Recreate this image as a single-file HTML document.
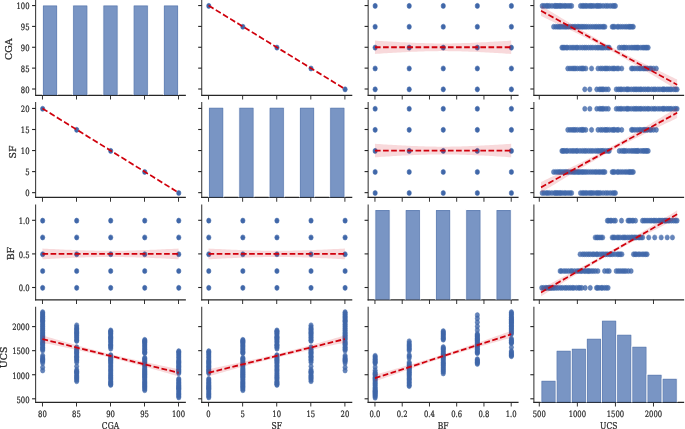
<!DOCTYPE html>
<html><head><meta charset="utf-8"><title>Pair plot</title>
<style>
html,body{margin:0;padding:0;background:#fff;}
body{width:685px;height:429px;overflow:hidden;}
svg{display:block;}
svg text{stroke:#262626;stroke-width:0.25px;paint-order:stroke;}
</style></head><body>
<svg width="685" height="429" viewBox="0 0 805.882 429" preserveAspectRatio="none"> <defs> <style type="text/css">*{stroke-linejoin: round; stroke-linecap: butt}</style> </defs> <g> <g> <path d="M 0 429 L 805.88 429 L 805.88 0 L 0 0 L 0 429 z " style="fill: none; opacity: 0"/> </g> <g> <g> <path d="M 41.94 95.25 L 218.05 95.25 L 218.05 0.35 L 41.94 0.35 L 41.94 95.25 z " style="fill: none; opacity: 0"/> </g> <g> <g> <g> <g> <path d="M 0 0 L 0 4.2 " transform="translate(49.94 95.25)" style="fill: #262626; stroke: #262626; stroke-width: 1.1; stroke: #262626; stroke-width: 1.1"/> </g> </g> </g> <g> <g> <g> <path d="M 0 0 L 0 4.2 " transform="translate(89.97 95.25)" style="fill: #262626; stroke: #262626; stroke-width: 1.1; stroke: #262626; stroke-width: 1.1"/> </g> </g> </g> <g> <g> <g> <path d="M 0 0 L 0 4.2 " transform="translate(130 95.25)" style="fill: #262626; stroke: #262626; stroke-width: 1.1; stroke: #262626; stroke-width: 1.1"/> </g> </g> </g> <g> <g> <g> <path d="M 0 0 L 0 4.2 " transform="translate(170.02 95.25)" style="fill: #262626; stroke: #262626; stroke-width: 1.1; stroke: #262626; stroke-width: 1.1"/> </g> </g> </g> <g> <g> <g> <path d="M 0 0 L 0 4.2 " transform="translate(210.05 95.25)" style="fill: #262626; stroke: #262626; stroke-width: 1.1; stroke: #262626; stroke-width: 1.1"/> </g> </g> </g> </g> <g> <g> <g> <g> <path d="M 0 0 L -4.2 0 " transform="translate(41.94 89)" style="fill: #262626; stroke: #262626; stroke-width: 1.1; stroke: #262626; stroke-width: 1.1"/> </g> </g> <g> <text style="font-size: 8.70px; font-family: 'DejaVu Serif', serif; text-anchor: end; fill: #262626" x="34.74" y="92.82" transform="translate(34.74 92.82) scale(0.925 1) translate(-34.74 -92.82)">80</text> </g> </g> <g> <g> <g> <path d="M 0 0 L -4.2 0 " transform="translate(41.94 68.13)" style="fill: #262626; stroke: #262626; stroke-width: 1.1; stroke: #262626; stroke-width: 1.1"/> </g> </g> <g> <text style="font-size: 8.70px; font-family: 'DejaVu Serif', serif; text-anchor: end; fill: #262626" x="34.74" y="71.96" transform="translate(34.74 71.96) scale(0.925 1) translate(-34.74 -71.96)">85</text> </g> </g> <g> <g> <g> <path d="M 0 0 L -4.2 0 " transform="translate(41.94 47.27)" style="fill: #262626; stroke: #262626; stroke-width: 1.1; stroke: #262626; stroke-width: 1.1"/> </g> </g> <g> <text style="font-size: 8.70px; font-family: 'DejaVu Serif', serif; text-anchor: end; fill: #262626" x="34.74" y="51.10" transform="translate(34.74 51.10) scale(0.925 1) translate(-34.74 -51.10)">90</text> </g> </g> <g> <g> <g> <path d="M 0 0 L -4.2 0 " transform="translate(41.94 26.41)" style="fill: #262626; stroke: #262626; stroke-width: 1.1; stroke: #262626; stroke-width: 1.1"/> </g> </g> <g> <text style="font-size: 8.70px; font-family: 'DejaVu Serif', serif; text-anchor: end; fill: #262626" x="34.74" y="30.24" transform="translate(34.74 30.24) scale(0.925 1) translate(-34.74 -30.24)">95</text> </g> </g> <g> <g> <g> <path d="M 0 0 L -4.2 0 " transform="translate(41.94 5.55)" style="fill: #262626; stroke: #262626; stroke-width: 1.1; stroke: #262626; stroke-width: 1.1"/> </g> </g> <g> <text style="font-size: 8.70px; font-family: 'DejaVu Serif', serif; text-anchor: end; fill: #262626" x="34.74" y="9.37" transform="translate(34.74 9.37) scale(0.925 1) translate(-34.74 -9.37)">100</text> </g> </g> </g> <g> <path d="M 41.94 95.25 L 41.94 0.35 " style="fill: none; stroke: #262626; stroke-width: 1.15; stroke-linejoin: miter; stroke-linecap: square"/> </g> <g> <path d="M 41.94 95.25 L 218.05 95.25 " style="fill: none; stroke: #262626; stroke-width: 1.25; stroke-linejoin: miter; stroke-linecap: square"/> </g> </g> <g> <g> <path d="M 237.35 95.25 L 413.82 95.25 L 413.82 0.35 L 237.35 0.35 L 237.35 95.25 z " style="fill: none; opacity: 0"/> </g> <g> <g> <g> <g> <path d="M 0 0 L 0 4.2 " transform="translate(245.37 95.25)" style="fill: #262626; stroke: #262626; stroke-width: 1.1; stroke: #262626; stroke-width: 1.1"/> </g> </g> </g> <g> <g> <g> <path d="M 0 0 L 0 4.2 " transform="translate(285.47 95.25)" style="fill: #262626; stroke: #262626; stroke-width: 1.1; stroke: #262626; stroke-width: 1.1"/> </g> </g> </g> <g> <g> <g> <path d="M 0 0 L 0 4.2 " transform="translate(325.57 95.25)" style="fill: #262626; stroke: #262626; stroke-width: 1.1; stroke: #262626; stroke-width: 1.1"/> </g> </g> </g> <g> <g> <g> <path d="M 0 0 L 0 4.2 " transform="translate(365.66 95.25)" style="fill: #262626; stroke: #262626; stroke-width: 1.1; stroke: #262626; stroke-width: 1.1"/> </g> </g> </g> <g> <g> <g> <path d="M 0 0 L 0 4.2 " transform="translate(405.76 95.25)" style="fill: #262626; stroke: #262626; stroke-width: 1.1; stroke: #262626; stroke-width: 1.1"/> </g> </g> </g> </g> <g> <g> <g> <g> <path d="M 0 0 L -4.2 0 " transform="translate(237.35 89)" style="fill: #262626; stroke: #262626; stroke-width: 1.1; stroke: #262626; stroke-width: 1.1"/> </g> </g> </g> <g> <g> <g> <path d="M 0 0 L -4.2 0 " transform="translate(237.35 68.13)" style="fill: #262626; stroke: #262626; stroke-width: 1.1; stroke: #262626; stroke-width: 1.1"/> </g> </g> </g> <g> <g> <g> <path d="M 0 0 L -4.2 0 " transform="translate(237.35 47.27)" style="fill: #262626; stroke: #262626; stroke-width: 1.1; stroke: #262626; stroke-width: 1.1"/> </g> </g> </g> <g> <g> <g> <path d="M 0 0 L -4.2 0 " transform="translate(237.35 26.41)" style="fill: #262626; stroke: #262626; stroke-width: 1.1; stroke: #262626; stroke-width: 1.1"/> </g> </g> </g> <g> <g> <g> <path d="M 0 0 L -4.2 0 " transform="translate(237.35 5.55)" style="fill: #262626; stroke: #262626; stroke-width: 1.1; stroke: #262626; stroke-width: 1.1"/> </g> </g> </g> </g> <g style="fill: #4067a9; stroke: #4067a9; stroke-width: 0.6; stroke-width: 0.60" transform="translate(0.24 0.35)"><circle cx="245.38" cy="5.55" r="2.55"/><circle cx="285.47" cy="26.41" r="2.55"/><circle cx="325.57" cy="47.27" r="2.55"/><circle cx="365.67" cy="68.14" r="2.55"/><circle cx="405.76" cy="89.00" r="2.55"/></g> <g> <path d="M 237.35 95.25 L 237.35 0.35 " style="fill: none; stroke: #262626; stroke-width: 1.15; stroke-linejoin: miter; stroke-linecap: square"/> </g> <g> <path d="M 237.35 95.25 L 413.82 95.25 " style="fill: none; stroke: #262626; stroke-width: 1.25; stroke-linejoin: miter; stroke-linecap: square"/> </g> <g> <path d="M 245.37 5.55 L 405.76 89 " clip-path="url(#p2cf65cdfdc)" style="fill: none; stroke-dasharray: 6.66,2.88; stroke-dashoffset: 0; stroke: #d0000c; stroke-width: 1.8"/> </g> </g> <g> <g> <path d="M 433.11 95.25 L 609.47 95.25 L 609.47 0.35 L 433.11 0.35 L 433.11 95.25 z " style="fill: none; opacity: 0"/> </g> <g> <g> <g> <g> <path d="M 0 0 L 0 4.2 " transform="translate(441.11 95.25)" style="fill: #262626; stroke: #262626; stroke-width: 1.1; stroke: #262626; stroke-width: 1.1"/> </g> </g> </g> <g> <g> <g> <path d="M 0 0 L 0 4.2 " transform="translate(473.17 95.25)" style="fill: #262626; stroke: #262626; stroke-width: 1.1; stroke: #262626; stroke-width: 1.1"/> </g> </g> </g> <g> <g> <g> <path d="M 0 0 L 0 4.2 " transform="translate(505.23 95.25)" style="fill: #262626; stroke: #262626; stroke-width: 1.1; stroke: #262626; stroke-width: 1.1"/> </g> </g> </g> <g> <g> <g> <path d="M 0 0 L 0 4.2 " transform="translate(537.29 95.25)" style="fill: #262626; stroke: #262626; stroke-width: 1.1; stroke: #262626; stroke-width: 1.1"/> </g> </g> </g> <g> <g> <g> <path d="M 0 0 L 0 4.2 " transform="translate(569.35 95.25)" style="fill: #262626; stroke: #262626; stroke-width: 1.1; stroke: #262626; stroke-width: 1.1"/> </g> </g> </g> <g> <g> <g> <path d="M 0 0 L 0 4.2 " transform="translate(601.41 95.25)" style="fill: #262626; stroke: #262626; stroke-width: 1.1; stroke: #262626; stroke-width: 1.1"/> </g> </g> </g> </g> <g> <g> <g> <g> <path d="M 0 0 L -4.2 0 " transform="translate(433.11 89)" style="fill: #262626; stroke: #262626; stroke-width: 1.1; stroke: #262626; stroke-width: 1.1"/> </g> </g> </g> <g> <g> <g> <path d="M 0 0 L -4.2 0 " transform="translate(433.11 68.13)" style="fill: #262626; stroke: #262626; stroke-width: 1.1; stroke: #262626; stroke-width: 1.1"/> </g> </g> </g> <g> <g> <g> <path d="M 0 0 L -4.2 0 " transform="translate(433.11 47.27)" style="fill: #262626; stroke: #262626; stroke-width: 1.1; stroke: #262626; stroke-width: 1.1"/> </g> </g> </g> <g> <g> <g> <path d="M 0 0 L -4.2 0 " transform="translate(433.11 26.41)" style="fill: #262626; stroke: #262626; stroke-width: 1.1; stroke: #262626; stroke-width: 1.1"/> </g> </g> </g> <g> <g> <g> <path d="M 0 0 L -4.2 0 " transform="translate(433.11 5.55)" style="fill: #262626; stroke: #262626; stroke-width: 1.1; stroke: #262626; stroke-width: 1.1"/> </g> </g> </g> </g> <g style="fill: #4067a9; stroke: #4067a9; stroke-width: 0.6; stroke-width: 0.60" transform="translate(0.24 0.35)"><circle cx="441.12" cy="89.00" r="2.55"/><circle cx="481.19" cy="89.00" r="2.55"/><circle cx="521.26" cy="89.00" r="2.55"/><circle cx="561.34" cy="89.00" r="2.55"/><circle cx="601.41" cy="89.00" r="2.55"/><circle cx="441.12" cy="68.14" r="2.55"/><circle cx="481.19" cy="68.14" r="2.55"/><circle cx="521.26" cy="68.14" r="2.55"/><circle cx="561.34" cy="68.14" r="2.55"/><circle cx="601.41" cy="68.14" r="2.55"/><circle cx="441.12" cy="47.27" r="2.55"/><circle cx="481.19" cy="47.27" r="2.55"/><circle cx="521.26" cy="47.27" r="2.55"/><circle cx="561.34" cy="47.27" r="2.55"/><circle cx="601.41" cy="47.27" r="2.55"/><circle cx="441.12" cy="26.41" r="2.55"/><circle cx="481.19" cy="26.41" r="2.55"/><circle cx="521.26" cy="26.41" r="2.55"/><circle cx="561.34" cy="26.41" r="2.55"/><circle cx="601.41" cy="26.41" r="2.55"/><circle cx="441.12" cy="5.55" r="2.55"/><circle cx="481.19" cy="5.55" r="2.55"/><circle cx="521.26" cy="5.55" r="2.55"/><circle cx="561.34" cy="5.55" r="2.55"/><circle cx="601.41" cy="5.55" r="2.55"/></g> <g> <path d="M 433.11 95.25 L 433.11 0.35 " style="fill: none; stroke: #262626; stroke-width: 1.15; stroke-linejoin: miter; stroke-linecap: square"/> </g> <g> <path d="M 433.11 95.25 L 609.47 95.25 " style="fill: none; stroke: #262626; stroke-width: 1.25; stroke-linejoin: miter; stroke-linecap: square"/> </g> <g> <path d="M 441.11 40.59 L 441.11 53.95 L 443.83 53.80 L 446.55 53.65 L 449.26 53.50 L 451.98 53.35 L 454.70 53.21 L 457.41 53.07 L 460.13 52.93 L 462.85 52.80 L 465.56 52.67 L 468.28 52.54 L 471.00 52.41 L 473.71 52.29 L 476.43 52.18 L 479.15 52.06 L 481.87 51.95 L 484.58 51.85 L 487.30 51.75 L 490.02 51.66 L 492.73 51.57 L 495.45 51.49 L 498.17 51.42 L 500.88 51.35 L 503.60 51.29 L 506.32 51.24 L 509.03 51.20 L 511.75 51.16 L 514.47 51.14 L 517.18 51.12 L 519.90 51.11 L 522.62 51.11 L 525.33 51.12 L 528.05 51.14 L 530.77 51.16 L 533.49 51.20 L 536.20 51.24 L 538.92 51.29 L 541.64 51.35 L 544.35 51.42 L 547.07 51.49 L 549.79 51.57 L 552.50 51.66 L 555.22 51.75 L 557.94 51.85 L 560.65 51.95 L 563.37 52.06 L 566.09 52.18 L 568.80 52.29 L 571.52 52.41 L 574.24 52.54 L 576.96 52.67 L 579.67 52.80 L 582.39 52.93 L 585.11 53.07 L 587.82 53.21 L 590.54 53.35 L 593.26 53.50 L 595.97 53.65 L 598.69 53.80 L 601.41 53.95 L 601.41 40.59 L 601.41 40.59 L 598.69 40.74 L 595.97 40.89 L 593.26 41.04 L 590.54 41.19 L 587.82 41.33 L 585.11 41.47 L 582.39 41.61 L 579.67 41.74 L 576.96 41.87 L 574.24 42.00 L 571.52 42.13 L 568.80 42.25 L 566.09 42.36 L 563.37 42.48 L 560.65 42.59 L 557.94 42.69 L 555.22 42.79 L 552.50 42.88 L 549.79 42.97 L 547.07 43.05 L 544.35 43.12 L 541.64 43.19 L 538.92 43.25 L 536.20 43.30 L 533.49 43.34 L 530.77 43.38 L 528.05 43.40 L 525.33 43.42 L 522.62 43.43 L 519.90 43.43 L 517.18 43.42 L 514.47 43.40 L 511.75 43.38 L 509.03 43.34 L 506.32 43.30 L 503.60 43.25 L 500.88 43.19 L 498.17 43.12 L 495.45 43.05 L 492.73 42.97 L 490.02 42.88 L 487.30 42.79 L 484.58 42.69 L 481.87 42.59 L 479.15 42.48 L 476.43 42.36 L 473.71 42.25 L 471.00 42.13 L 468.28 42.00 L 465.56 41.87 L 462.85 41.74 L 460.13 41.61 L 457.41 41.47 L 454.70 41.33 L 451.98 41.19 L 449.26 41.04 L 446.55 40.89 L 443.83 40.74 L 441.11 40.59 z " clip-path="url(#p220b580587)" style="fill: #d0000c; fill-opacity: 0.15"/> </g> <g> <path d="M 441.11 47.27 L 601.41 47.27 " clip-path="url(#p220b580587)" style="fill: none; stroke-dasharray: 6.66,2.88; stroke-dashoffset: 0; stroke: #d0000c; stroke-width: 1.8"/> </g> </g> <g> <g> <path d="M 628.11 95.25 L 804.23 95.25 L 804.23 0.35 L 628.11 0.35 L 628.11 95.25 z " style="fill: none; opacity: 0"/> </g> <g> <g> <g> <g> <path d="M 0 0 L 0 4.2 " transform="translate(634.44 95.25)" style="fill: #262626; stroke: #262626; stroke-width: 1.1; stroke: #262626; stroke-width: 1.1"/> </g> </g> </g> <g> <g> <g> <path d="M 0 0 L 0 4.2 " transform="translate(679.22 95.25)" style="fill: #262626; stroke: #262626; stroke-width: 1.1; stroke: #262626; stroke-width: 1.1"/> </g> </g> </g> <g> <g> <g> <path d="M 0 0 L 0 4.2 " transform="translate(724 95.25)" style="fill: #262626; stroke: #262626; stroke-width: 1.1; stroke: #262626; stroke-width: 1.1"/> </g> </g> </g> <g> <g> <g> <path d="M 0 0 L 0 4.2 " transform="translate(768.77 95.25)" style="fill: #262626; stroke: #262626; stroke-width: 1.1; stroke: #262626; stroke-width: 1.1"/> </g> </g> </g> </g> <g> <g> <g> <g> <path d="M 0 0 L -4.2 0 " transform="translate(628.11 89)" style="fill: #262626; stroke: #262626; stroke-width: 1.1; stroke: #262626; stroke-width: 1.1"/> </g> </g> </g> <g> <g> <g> <path d="M 0 0 L -4.2 0 " transform="translate(628.11 68.13)" style="fill: #262626; stroke: #262626; stroke-width: 1.1; stroke: #262626; stroke-width: 1.1"/> </g> </g> </g> <g> <g> <g> <path d="M 0 0 L -4.2 0 " transform="translate(628.11 47.27)" style="fill: #262626; stroke: #262626; stroke-width: 1.1; stroke: #262626; stroke-width: 1.1"/> </g> </g> </g> <g> <g> <g> <path d="M 0 0 L -4.2 0 " transform="translate(628.11 26.41)" style="fill: #262626; stroke: #262626; stroke-width: 1.1; stroke: #262626; stroke-width: 1.1"/> </g> </g> </g> <g> <g> <g> <path d="M 0 0 L -4.2 0 " transform="translate(628.11 5.55)" style="fill: #262626; stroke: #262626; stroke-width: 1.1; stroke: #262626; stroke-width: 1.1"/> </g> </g> </g> </g> <g style="fill: #4067a9; fill-opacity: 0.8; stroke: #4067a9; stroke-opacity: 0.8; stroke-width: 0.6; stroke-width: 0.60" transform="translate(0.24 0.35)"><circle cx="637.65" cy="5.55" r="2.55"/><circle cx="639.86" cy="5.55" r="2.55"/><circle cx="642.38" cy="5.55" r="2.55"/><circle cx="644.10" cy="5.55" r="2.55"/><circle cx="646.23" cy="5.55" r="2.55"/><circle cx="649.10" cy="5.55" r="2.55"/><circle cx="651.97" cy="5.55" r="2.55"/><circle cx="653.38" cy="5.55" r="2.55"/><circle cx="654.94" cy="5.55" r="2.55"/><circle cx="656.20" cy="5.55" r="2.55"/><circle cx="658.20" cy="5.55" r="2.55"/><circle cx="659.43" cy="5.55" r="2.55"/><circle cx="661.46" cy="5.55" r="2.55"/><circle cx="663.86" cy="5.55" r="2.55"/><circle cx="665.56" cy="5.55" r="2.55"/><circle cx="668.01" cy="5.55" r="2.55"/><circle cx="670.30" cy="5.55" r="2.55"/><circle cx="672.24" cy="5.55" r="2.55"/><circle cx="682.71" cy="5.55" r="2.55"/><circle cx="684.94" cy="5.55" r="2.55"/><circle cx="686.59" cy="5.55" r="2.55"/><circle cx="688.55" cy="5.55" r="2.55"/><circle cx="690.26" cy="5.55" r="2.55"/><circle cx="692.74" cy="5.55" r="2.55"/><circle cx="694.75" cy="5.55" r="2.55"/><circle cx="696.21" cy="5.55" r="2.55"/><circle cx="698.41" cy="5.55" r="2.55"/><circle cx="701.06" cy="5.55" r="2.55"/><circle cx="702.81" cy="5.55" r="2.55"/><circle cx="704.40" cy="5.55" r="2.55"/><circle cx="706.30" cy="5.55" r="2.55"/><circle cx="709.25" cy="5.55" r="2.55"/><circle cx="712.28" cy="5.55" r="2.55"/><circle cx="714.72" cy="5.55" r="2.55"/><circle cx="717.61" cy="5.55" r="2.55"/><circle cx="720.39" cy="5.55" r="2.55"/><circle cx="722.27" cy="5.55" r="2.55"/><circle cx="723.76" cy="5.55" r="2.55"/><circle cx="651.06" cy="26.41" r="2.55"/><circle cx="653.47" cy="26.41" r="2.55"/><circle cx="655.70" cy="26.41" r="2.55"/><circle cx="657.55" cy="26.41" r="2.55"/><circle cx="659.14" cy="26.41" r="2.55"/><circle cx="661.08" cy="26.41" r="2.55"/><circle cx="663.14" cy="26.41" r="2.55"/><circle cx="664.82" cy="26.41" r="2.55"/><circle cx="666.54" cy="26.41" r="2.55"/><circle cx="668.58" cy="26.41" r="2.55"/><circle cx="671.38" cy="26.41" r="2.55"/><circle cx="673.66" cy="26.41" r="2.55"/><circle cx="675.37" cy="26.41" r="2.55"/><circle cx="677.06" cy="26.41" r="2.55"/><circle cx="679.10" cy="26.41" r="2.55"/><circle cx="680.65" cy="26.41" r="2.55"/><circle cx="682.20" cy="26.41" r="2.55"/><circle cx="684.34" cy="26.41" r="2.55"/><circle cx="685.68" cy="26.41" r="2.55"/><circle cx="687.76" cy="26.41" r="2.55"/><circle cx="689.62" cy="26.41" r="2.55"/><circle cx="692.13" cy="26.41" r="2.55"/><circle cx="694.72" cy="26.41" r="2.55"/><circle cx="697.20" cy="26.41" r="2.55"/><circle cx="699.68" cy="26.41" r="2.55"/><circle cx="701.55" cy="26.41" r="2.55"/><circle cx="703.99" cy="26.41" r="2.55"/><circle cx="705.81" cy="26.41" r="2.55"/><circle cx="708.06" cy="26.41" r="2.55"/><circle cx="709.85" cy="26.41" r="2.55"/><circle cx="711.41" cy="26.41" r="2.55"/><circle cx="720.00" cy="26.41" r="2.55"/><circle cx="721.28" cy="26.41" r="2.55"/><circle cx="722.91" cy="26.41" r="2.55"/><circle cx="725.93" cy="26.41" r="2.55"/><circle cx="727.53" cy="26.41" r="2.55"/><circle cx="730.01" cy="26.41" r="2.55"/><circle cx="732.42" cy="26.41" r="2.55"/><circle cx="734.96" cy="26.41" r="2.55"/><circle cx="737.03" cy="26.41" r="2.55"/><circle cx="739.33" cy="26.41" r="2.55"/><circle cx="740.63" cy="26.41" r="2.55"/><circle cx="741.93" cy="26.41" r="2.55"/><circle cx="743.47" cy="26.41" r="2.55"/><circle cx="744.82" cy="26.41" r="2.55"/><circle cx="660.82" cy="47.27" r="2.55"/><circle cx="662.18" cy="47.27" r="2.55"/><circle cx="663.59" cy="47.27" r="2.55"/><circle cx="665.81" cy="47.27" r="2.55"/><circle cx="667.33" cy="47.27" r="2.55"/><circle cx="670.31" cy="47.27" r="2.55"/><circle cx="672.78" cy="47.27" r="2.55"/><circle cx="674.97" cy="47.27" r="2.55"/><circle cx="677.48" cy="47.27" r="2.55"/><circle cx="679.15" cy="47.27" r="2.55"/><circle cx="682.08" cy="47.27" r="2.55"/><circle cx="684.85" cy="47.27" r="2.55"/><circle cx="687.40" cy="47.27" r="2.55"/><circle cx="689.48" cy="47.27" r="2.55"/><circle cx="692.24" cy="47.27" r="2.55"/><circle cx="694.83" cy="47.27" r="2.55"/><circle cx="697.25" cy="47.27" r="2.55"/><circle cx="700.16" cy="47.27" r="2.55"/><circle cx="702.53" cy="47.27" r="2.55"/><circle cx="704.39" cy="47.27" r="2.55"/><circle cx="706.61" cy="47.27" r="2.55"/><circle cx="708.15" cy="47.27" r="2.55"/><circle cx="709.68" cy="47.27" r="2.55"/><circle cx="712.23" cy="47.27" r="2.55"/><circle cx="714.89" cy="47.27" r="2.55"/><circle cx="716.47" cy="47.27" r="2.55"/><circle cx="728.35" cy="47.27" r="2.55"/><circle cx="731.14" cy="47.27" r="2.55"/><circle cx="733.34" cy="47.27" r="2.55"/><circle cx="734.68" cy="47.27" r="2.55"/><circle cx="736.77" cy="47.27" r="2.55"/><circle cx="739.71" cy="47.27" r="2.55"/><circle cx="742.37" cy="47.27" r="2.55"/><circle cx="744.46" cy="47.27" r="2.55"/><circle cx="746.49" cy="47.27" r="2.55"/><circle cx="748.07" cy="47.27" r="2.55"/><circle cx="749.58" cy="47.27" r="2.55"/><circle cx="750.88" cy="47.27" r="2.55"/><circle cx="753.75" cy="47.27" r="2.55"/><circle cx="756.13" cy="47.27" r="2.55"/><circle cx="757.57" cy="47.27" r="2.55"/><circle cx="759.52" cy="47.27" r="2.55"/><circle cx="760.78" cy="47.27" r="2.55"/><circle cx="762.35" cy="47.27" r="2.55"/><circle cx="667.76" cy="68.14" r="2.55"/><circle cx="670.32" cy="68.14" r="2.55"/><circle cx="672.73" cy="68.14" r="2.55"/><circle cx="674.81" cy="68.14" r="2.55"/><circle cx="676.49" cy="68.14" r="2.55"/><circle cx="678.90" cy="68.14" r="2.55"/><circle cx="681.89" cy="68.14" r="2.55"/><circle cx="683.88" cy="68.14" r="2.55"/><circle cx="685.18" cy="68.14" r="2.55"/><circle cx="686.46" cy="68.14" r="2.55"/><circle cx="688.94" cy="68.14" r="2.55"/><circle cx="695.71" cy="68.14" r="2.55"/><circle cx="703.29" cy="68.14" r="2.55"/><circle cx="706.29" cy="68.14" r="2.55"/><circle cx="708.48" cy="68.14" r="2.55"/><circle cx="711.24" cy="68.14" r="2.55"/><circle cx="712.73" cy="68.14" r="2.55"/><circle cx="714.39" cy="68.14" r="2.55"/><circle cx="716.88" cy="68.14" r="2.55"/><circle cx="719.75" cy="68.14" r="2.55"/><circle cx="721.56" cy="68.14" r="2.55"/><circle cx="722.85" cy="68.14" r="2.55"/><circle cx="725.66" cy="68.14" r="2.55"/><circle cx="727.38" cy="68.14" r="2.55"/><circle cx="731.18" cy="68.14" r="2.55"/><circle cx="742.71" cy="68.14" r="2.55"/><circle cx="744.17" cy="68.14" r="2.55"/><circle cx="746.66" cy="68.14" r="2.55"/><circle cx="749.43" cy="68.14" r="2.55"/><circle cx="751.98" cy="68.14" r="2.55"/><circle cx="753.83" cy="68.14" r="2.55"/><circle cx="756.38" cy="68.14" r="2.55"/><circle cx="757.81" cy="68.14" r="2.55"/><circle cx="759.57" cy="68.14" r="2.55"/><circle cx="761.54" cy="68.14" r="2.55"/><circle cx="764.37" cy="68.14" r="2.55"/><circle cx="765.83" cy="68.14" r="2.55"/><circle cx="768.67" cy="68.14" r="2.55"/><circle cx="771.88" cy="68.14" r="2.55"/><circle cx="687.76" cy="89.00" r="2.55"/><circle cx="693.65" cy="89.00" r="2.55"/><circle cx="701.88" cy="89.00" r="2.55"/><circle cx="704.90" cy="89.00" r="2.55"/><circle cx="706.76" cy="89.00" r="2.55"/><circle cx="708.32" cy="89.00" r="2.55"/><circle cx="709.94" cy="89.00" r="2.55"/><circle cx="712.69" cy="89.00" r="2.55"/><circle cx="715.41" cy="89.00" r="2.55"/><circle cx="724.82" cy="89.00" r="2.55"/><circle cx="727.32" cy="89.00" r="2.55"/><circle cx="729.40" cy="89.00" r="2.55"/><circle cx="731.12" cy="89.00" r="2.55"/><circle cx="733.87" cy="89.00" r="2.55"/><circle cx="736.70" cy="89.00" r="2.55"/><circle cx="738.04" cy="89.00" r="2.55"/><circle cx="739.61" cy="89.00" r="2.55"/><circle cx="742.36" cy="89.00" r="2.55"/><circle cx="745.14" cy="89.00" r="2.55"/><circle cx="746.91" cy="89.00" r="2.55"/><circle cx="748.61" cy="89.00" r="2.55"/><circle cx="750.59" cy="89.00" r="2.55"/><circle cx="752.78" cy="89.00" r="2.55"/><circle cx="754.13" cy="89.00" r="2.55"/><circle cx="756.89" cy="89.00" r="2.55"/><circle cx="759.08" cy="89.00" r="2.55"/><circle cx="761.72" cy="89.00" r="2.55"/><circle cx="763.32" cy="89.00" r="2.55"/><circle cx="766.33" cy="89.00" r="2.55"/><circle cx="768.92" cy="89.00" r="2.55"/><circle cx="770.74" cy="89.00" r="2.55"/><circle cx="773.71" cy="89.00" r="2.55"/><circle cx="776.21" cy="89.00" r="2.55"/><circle cx="778.98" cy="89.00" r="2.55"/><circle cx="780.23" cy="89.00" r="2.55"/><circle cx="781.50" cy="89.00" r="2.55"/><circle cx="784.08" cy="89.00" r="2.55"/><circle cx="785.83" cy="89.00" r="2.55"/><circle cx="787.98" cy="89.00" r="2.55"/><circle cx="789.44" cy="89.00" r="2.55"/><circle cx="792.47" cy="89.00" r="2.55"/><circle cx="794.59" cy="89.00" r="2.55"/><circle cx="796.35" cy="89.00" r="2.55"/></g> <g> <path d="M 628.11 95.25 L 628.11 0.35 " style="fill: none; stroke: #262626; stroke-width: 1.15; stroke-linejoin: miter; stroke-linecap: square"/> </g> <g> <path d="M 628.11 95.25 L 804.23 95.25 " style="fill: none; stroke: #262626; stroke-width: 1.25; stroke-linejoin: miter; stroke-linecap: square"/> </g> <g> <path d="M 636.47 5.59 L 636.47 16.02 L 639.19 17.12 L 641.91 18.23 L 644.62 19.33 L 647.34 20.44 L 650.05 21.55 L 652.77 22.66 L 655.48 23.77 L 658.20 24.88 L 660.91 26.00 L 663.63 27.11 L 666.34 28.23 L 669.06 29.35 L 671.77 30.48 L 674.49 31.60 L 677.20 32.73 L 679.92 33.86 L 682.63 35.00 L 685.35 36.14 L 688.07 37.29 L 690.78 38.44 L 693.50 39.60 L 696.21 40.77 L 698.93 41.95 L 701.64 43.13 L 704.36 44.32 L 707.07 45.53 L 709.79 46.74 L 712.50 47.97 L 715.22 49.21 L 717.93 50.46 L 720.65 51.73 L 723.36 53.01 L 726.08 54.30 L 728.79 55.60 L 731.51 56.91 L 734.22 58.23 L 736.94 59.56 L 739.66 60.90 L 742.37 62.24 L 745.09 63.59 L 747.80 64.95 L 750.52 66.31 L 753.23 67.68 L 755.95 69.05 L 758.66 70.43 L 761.38 71.81 L 764.09 73.19 L 766.81 74.57 L 769.52 75.96 L 772.24 77.35 L 774.95 78.74 L 777.67 80.13 L 780.38 81.52 L 783.10 82.92 L 785.82 84.32 L 788.53 85.71 L 791.25 87.11 L 793.96 88.51 L 796.68 89.91 L 796.68 79.48 L 796.68 79.48 L 793.96 78.38 L 791.25 77.27 L 788.53 76.17 L 785.82 75.06 L 783.10 73.95 L 780.38 72.84 L 777.67 71.73 L 774.95 70.62 L 772.24 69.50 L 769.52 68.39 L 766.81 67.27 L 764.09 66.15 L 761.38 65.02 L 758.66 63.90 L 755.95 62.77 L 753.23 61.64 L 750.52 60.50 L 747.80 59.36 L 745.09 58.21 L 742.37 57.06 L 739.66 55.90 L 736.94 54.73 L 734.22 53.55 L 731.51 52.37 L 728.79 51.18 L 726.08 49.97 L 723.36 48.76 L 720.65 47.53 L 717.93 46.29 L 715.22 45.04 L 712.50 43.77 L 709.79 42.49 L 707.07 41.20 L 704.36 39.90 L 701.64 38.59 L 698.93 37.27 L 696.21 35.94 L 693.50 34.60 L 690.78 33.26 L 688.07 31.91 L 685.35 30.55 L 682.63 29.19 L 679.92 27.82 L 677.20 26.45 L 674.49 25.07 L 671.77 23.69 L 669.06 22.31 L 666.34 20.93 L 663.63 19.54 L 660.91 18.15 L 658.20 16.76 L 655.48 15.37 L 652.77 13.98 L 650.05 12.58 L 647.34 11.18 L 644.62 9.79 L 641.91 8.39 L 639.19 6.99 L 636.47 5.59 z " clip-path="url(#p8762968a3f)" style="fill: #d0000c; fill-opacity: 0.15"/> </g> <g> <path d="M 636.47 10.80 L 796.68 84.70 " clip-path="url(#p8762968a3f)" style="fill: none; stroke-dasharray: 6.66,2.88; stroke-dashoffset: 0; stroke: #d0000c; stroke-width: 1.8"/> </g> </g> <g> <g> <path d="M 41.94 197.45 L 218.05 197.45 L 218.05 102.6 L 41.94 102.6 L 41.94 197.45 z " style="fill: none; opacity: 0"/> </g> <g> <g> <g> <g> <path d="M 0 0 L 0 4.2 " transform="translate(49.94 197.45)" style="fill: #262626; stroke: #262626; stroke-width: 1.1; stroke: #262626; stroke-width: 1.1"/> </g> </g> </g> <g> <g> <g> <path d="M 0 0 L 0 4.2 " transform="translate(89.97 197.45)" style="fill: #262626; stroke: #262626; stroke-width: 1.1; stroke: #262626; stroke-width: 1.1"/> </g> </g> </g> <g> <g> <g> <path d="M 0 0 L 0 4.2 " transform="translate(130 197.45)" style="fill: #262626; stroke: #262626; stroke-width: 1.1; stroke: #262626; stroke-width: 1.1"/> </g> </g> </g> <g> <g> <g> <path d="M 0 0 L 0 4.2 " transform="translate(170.02 197.45)" style="fill: #262626; stroke: #262626; stroke-width: 1.1; stroke: #262626; stroke-width: 1.1"/> </g> </g> </g> <g> <g> <g> <path d="M 0 0 L 0 4.2 " transform="translate(210.05 197.45)" style="fill: #262626; stroke: #262626; stroke-width: 1.1; stroke: #262626; stroke-width: 1.1"/> </g> </g> </g> </g> <g> <g> <g> <g> <path d="M 0 0 L -4.2 0 " transform="translate(41.94 192.65)" style="fill: #262626; stroke: #262626; stroke-width: 1.1; stroke: #262626; stroke-width: 1.1"/> </g> </g> <g> <text style="font-size: 8.70px; font-family: 'DejaVu Serif', serif; text-anchor: end; fill: #262626" x="34.74" y="196.47" transform="translate(34.74 196.47) scale(0.925 1) translate(-34.74 -196.47)">0</text> </g> </g> <g> <g> <g> <path d="M 0 0 L -4.2 0 " transform="translate(41.94 171.6)" style="fill: #262626; stroke: #262626; stroke-width: 1.1; stroke: #262626; stroke-width: 1.1"/> </g> </g> <g> <text style="font-size: 8.70px; font-family: 'DejaVu Serif', serif; text-anchor: end; fill: #262626" x="34.74" y="175.42" transform="translate(34.74 175.42) scale(0.925 1) translate(-34.74 -175.42)">5</text> </g> </g> <g> <g> <g> <path d="M 0 0 L -4.2 0 " transform="translate(41.94 150.55)" style="fill: #262626; stroke: #262626; stroke-width: 1.1; stroke: #262626; stroke-width: 1.1"/> </g> </g> <g> <text style="font-size: 8.70px; font-family: 'DejaVu Serif', serif; text-anchor: end; fill: #262626" x="34.74" y="154.37" transform="translate(34.74 154.37) scale(0.925 1) translate(-34.74 -154.37)">10</text> </g> </g> <g> <g> <g> <path d="M 0 0 L -4.2 0 " transform="translate(41.94 129.5)" style="fill: #262626; stroke: #262626; stroke-width: 1.1; stroke: #262626; stroke-width: 1.1"/> </g> </g> <g> <text style="font-size: 8.70px; font-family: 'DejaVu Serif', serif; text-anchor: end; fill: #262626" x="34.74" y="133.32" transform="translate(34.74 133.32) scale(0.925 1) translate(-34.74 -133.32)">15</text> </g> </g> <g> <g> <g> <path d="M 0 0 L -4.2 0 " transform="translate(41.94 108.45)" style="fill: #262626; stroke: #262626; stroke-width: 1.1; stroke: #262626; stroke-width: 1.1"/> </g> </g> <g> <text style="font-size: 8.70px; font-family: 'DejaVu Serif', serif; text-anchor: end; fill: #262626" x="34.74" y="112.27" transform="translate(34.74 112.27) scale(0.925 1) translate(-34.74 -112.27)">20</text> </g> </g> </g> <g style="fill: #4067a9; stroke: #4067a9; stroke-width: 0.6; stroke-width: 0.60" transform="translate(0.24 0.35)"><circle cx="49.94" cy="108.45" r="2.55"/><circle cx="89.97" cy="129.50" r="2.55"/><circle cx="130.00" cy="150.55" r="2.55"/><circle cx="170.03" cy="171.60" r="2.55"/><circle cx="210.06" cy="192.65" r="2.55"/></g> <g> <path d="M 41.94 197.45 L 41.94 102.6 " style="fill: none; stroke: #262626; stroke-width: 1.15; stroke-linejoin: miter; stroke-linecap: square"/> </g> <g> <path d="M 41.94 197.45 L 218.05 197.45 " style="fill: none; stroke: #262626; stroke-width: 1.25; stroke-linejoin: miter; stroke-linecap: square"/> </g> <g> <path d="M 49.94 108.45 L 210.05 192.65 " clip-path="url(#p64d9a07a11)" style="fill: none; stroke-dasharray: 6.66,2.88; stroke-dashoffset: 0; stroke: #d0000c; stroke-width: 1.8"/> </g> </g> <g> <g> <path d="M 237.35 197.45 L 413.82 197.45 L 413.82 102.6 L 237.35 102.6 L 237.35 197.45 z " style="fill: none; opacity: 0"/> </g> <g> <g> <g> <g> <path d="M 0 0 L 0 4.2 " transform="translate(245.37 197.45)" style="fill: #262626; stroke: #262626; stroke-width: 1.1; stroke: #262626; stroke-width: 1.1"/> </g> </g> </g> <g> <g> <g> <path d="M 0 0 L 0 4.2 " transform="translate(285.47 197.45)" style="fill: #262626; stroke: #262626; stroke-width: 1.1; stroke: #262626; stroke-width: 1.1"/> </g> </g> </g> <g> <g> <g> <path d="M 0 0 L 0 4.2 " transform="translate(325.57 197.45)" style="fill: #262626; stroke: #262626; stroke-width: 1.1; stroke: #262626; stroke-width: 1.1"/> </g> </g> </g> <g> <g> <g> <path d="M 0 0 L 0 4.2 " transform="translate(365.66 197.45)" style="fill: #262626; stroke: #262626; stroke-width: 1.1; stroke: #262626; stroke-width: 1.1"/> </g> </g> </g> <g> <g> <g> <path d="M 0 0 L 0 4.2 " transform="translate(405.76 197.45)" style="fill: #262626; stroke: #262626; stroke-width: 1.1; stroke: #262626; stroke-width: 1.1"/> </g> </g> </g> </g> <g> <g> <g> <g> <path d="M 0 0 L -4.2 0 " transform="translate(237.35 192.65)" style="fill: #262626; stroke: #262626; stroke-width: 1.1; stroke: #262626; stroke-width: 1.1"/> </g> </g> </g> <g> <g> <g> <path d="M 0 0 L -4.2 0 " transform="translate(237.35 171.6)" style="fill: #262626; stroke: #262626; stroke-width: 1.1; stroke: #262626; stroke-width: 1.1"/> </g> </g> </g> <g> <g> <g> <path d="M 0 0 L -4.2 0 " transform="translate(237.35 150.55)" style="fill: #262626; stroke: #262626; stroke-width: 1.1; stroke: #262626; stroke-width: 1.1"/> </g> </g> </g> <g> <g> <g> <path d="M 0 0 L -4.2 0 " transform="translate(237.35 129.5)" style="fill: #262626; stroke: #262626; stroke-width: 1.1; stroke: #262626; stroke-width: 1.1"/> </g> </g> </g> <g> <g> <g> <path d="M 0 0 L -4.2 0 " transform="translate(237.35 108.45)" style="fill: #262626; stroke: #262626; stroke-width: 1.1; stroke: #262626; stroke-width: 1.1"/> </g> </g> </g> </g> <g> <path d="M 237.35 197.45 L 237.35 102.6 " style="fill: none; stroke: #262626; stroke-width: 1.15; stroke-linejoin: miter; stroke-linecap: square"/> </g> <g> <path d="M 237.35 197.45 L 413.82 197.45 " style="fill: none; stroke: #262626; stroke-width: 1.25; stroke-linejoin: miter; stroke-linecap: square"/> </g> </g> <g> <g> <path d="M 433.11 197.45 L 609.47 197.45 L 609.47 102.6 L 433.11 102.6 L 433.11 197.45 z " style="fill: none; opacity: 0"/> </g> <g> <g> <g> <g> <path d="M 0 0 L 0 4.2 " transform="translate(441.11 197.45)" style="fill: #262626; stroke: #262626; stroke-width: 1.1; stroke: #262626; stroke-width: 1.1"/> </g> </g> </g> <g> <g> <g> <path d="M 0 0 L 0 4.2 " transform="translate(473.17 197.45)" style="fill: #262626; stroke: #262626; stroke-width: 1.1; stroke: #262626; stroke-width: 1.1"/> </g> </g> </g> <g> <g> <g> <path d="M 0 0 L 0 4.2 " transform="translate(505.23 197.45)" style="fill: #262626; stroke: #262626; stroke-width: 1.1; stroke: #262626; stroke-width: 1.1"/> </g> </g> </g> <g> <g> <g> <path d="M 0 0 L 0 4.2 " transform="translate(537.29 197.45)" style="fill: #262626; stroke: #262626; stroke-width: 1.1; stroke: #262626; stroke-width: 1.1"/> </g> </g> </g> <g> <g> <g> <path d="M 0 0 L 0 4.2 " transform="translate(569.35 197.45)" style="fill: #262626; stroke: #262626; stroke-width: 1.1; stroke: #262626; stroke-width: 1.1"/> </g> </g> </g> <g> <g> <g> <path d="M 0 0 L 0 4.2 " transform="translate(601.41 197.45)" style="fill: #262626; stroke: #262626; stroke-width: 1.1; stroke: #262626; stroke-width: 1.1"/> </g> </g> </g> </g> <g> <g> <g> <g> <path d="M 0 0 L -4.2 0 " transform="translate(433.11 192.65)" style="fill: #262626; stroke: #262626; stroke-width: 1.1; stroke: #262626; stroke-width: 1.1"/> </g> </g> </g> <g> <g> <g> <path d="M 0 0 L -4.2 0 " transform="translate(433.11 171.6)" style="fill: #262626; stroke: #262626; stroke-width: 1.1; stroke: #262626; stroke-width: 1.1"/> </g> </g> </g> <g> <g> <g> <path d="M 0 0 L -4.2 0 " transform="translate(433.11 150.55)" style="fill: #262626; stroke: #262626; stroke-width: 1.1; stroke: #262626; stroke-width: 1.1"/> </g> </g> </g> <g> <g> <g> <path d="M 0 0 L -4.2 0 " transform="translate(433.11 129.5)" style="fill: #262626; stroke: #262626; stroke-width: 1.1; stroke: #262626; stroke-width: 1.1"/> </g> </g> </g> <g> <g> <g> <path d="M 0 0 L -4.2 0 " transform="translate(433.11 108.45)" style="fill: #262626; stroke: #262626; stroke-width: 1.1; stroke: #262626; stroke-width: 1.1"/> </g> </g> </g> </g> <g style="fill: #4067a9; stroke: #4067a9; stroke-width: 0.6; stroke-width: 0.60" transform="translate(0.24 0.35)"><circle cx="441.12" cy="192.65" r="2.55"/><circle cx="481.19" cy="192.65" r="2.55"/><circle cx="521.26" cy="192.65" r="2.55"/><circle cx="561.34" cy="192.65" r="2.55"/><circle cx="601.41" cy="192.65" r="2.55"/><circle cx="441.12" cy="171.60" r="2.55"/><circle cx="481.19" cy="171.60" r="2.55"/><circle cx="521.26" cy="171.60" r="2.55"/><circle cx="561.34" cy="171.60" r="2.55"/><circle cx="601.41" cy="171.60" r="2.55"/><circle cx="441.12" cy="150.55" r="2.55"/><circle cx="481.19" cy="150.55" r="2.55"/><circle cx="521.26" cy="150.55" r="2.55"/><circle cx="561.34" cy="150.55" r="2.55"/><circle cx="601.41" cy="150.55" r="2.55"/><circle cx="441.12" cy="129.50" r="2.55"/><circle cx="481.19" cy="129.50" r="2.55"/><circle cx="521.26" cy="129.50" r="2.55"/><circle cx="561.34" cy="129.50" r="2.55"/><circle cx="601.41" cy="129.50" r="2.55"/><circle cx="441.12" cy="108.45" r="2.55"/><circle cx="481.19" cy="108.45" r="2.55"/><circle cx="521.26" cy="108.45" r="2.55"/><circle cx="561.34" cy="108.45" r="2.55"/><circle cx="601.41" cy="108.45" r="2.55"/></g> <g> <path d="M 433.11 197.45 L 433.11 102.6 " style="fill: none; stroke: #262626; stroke-width: 1.15; stroke-linejoin: miter; stroke-linecap: square"/> </g> <g> <path d="M 433.11 197.45 L 609.47 197.45 " style="fill: none; stroke: #262626; stroke-width: 1.25; stroke-linejoin: miter; stroke-linecap: square"/> </g> <g> <path d="M 441.11 143.81 L 441.11 157.28 L 443.83 157.13 L 446.55 156.98 L 449.26 156.83 L 451.98 156.68 L 454.70 156.54 L 457.41 156.40 L 460.13 156.26 L 462.85 156.12 L 465.56 155.99 L 468.28 155.86 L 471.00 155.74 L 473.71 155.61 L 476.43 155.50 L 479.15 155.38 L 481.87 155.27 L 484.58 155.17 L 487.30 155.07 L 490.02 154.97 L 492.73 154.89 L 495.45 154.81 L 498.17 154.73 L 500.88 154.66 L 503.60 154.60 L 506.32 154.55 L 509.03 154.51 L 511.75 154.47 L 514.47 154.45 L 517.18 154.43 L 519.90 154.42 L 522.62 154.42 L 525.33 154.43 L 528.05 154.45 L 530.77 154.47 L 533.49 154.51 L 536.20 154.55 L 538.92 154.60 L 541.64 154.66 L 544.35 154.73 L 547.07 154.81 L 549.79 154.89 L 552.50 154.97 L 555.22 155.07 L 557.94 155.17 L 560.65 155.27 L 563.37 155.38 L 566.09 155.50 L 568.80 155.61 L 571.52 155.74 L 574.24 155.86 L 576.96 155.99 L 579.67 156.12 L 582.39 156.26 L 585.11 156.40 L 587.82 156.54 L 590.54 156.68 L 593.26 156.83 L 595.97 156.98 L 598.69 157.13 L 601.41 157.28 L 601.41 143.81 L 601.41 143.81 L 598.69 143.96 L 595.97 144.11 L 593.26 144.26 L 590.54 144.41 L 587.82 144.55 L 585.11 144.69 L 582.39 144.83 L 579.67 144.97 L 576.96 145.10 L 574.24 145.23 L 571.52 145.35 L 568.80 145.48 L 566.09 145.59 L 563.37 145.71 L 560.65 145.82 L 557.94 145.92 L 555.22 146.02 L 552.50 146.12 L 549.79 146.20 L 547.07 146.28 L 544.35 146.36 L 541.64 146.43 L 538.92 146.49 L 536.20 146.54 L 533.49 146.58 L 530.77 146.62 L 528.05 146.64 L 525.33 146.66 L 522.62 146.67 L 519.90 146.67 L 517.18 146.66 L 514.47 146.64 L 511.75 146.62 L 509.03 146.58 L 506.32 146.54 L 503.60 146.49 L 500.88 146.43 L 498.17 146.36 L 495.45 146.28 L 492.73 146.20 L 490.02 146.12 L 487.30 146.02 L 484.58 145.92 L 481.87 145.82 L 479.15 145.71 L 476.43 145.59 L 473.71 145.48 L 471.00 145.35 L 468.28 145.23 L 465.56 145.10 L 462.85 144.97 L 460.13 144.83 L 457.41 144.69 L 454.70 144.55 L 451.98 144.41 L 449.26 144.26 L 446.55 144.11 L 443.83 143.96 L 441.11 143.81 z " clip-path="url(#p9f455ea907)" style="fill: #d0000c; fill-opacity: 0.15"/> </g> <g> <path d="M 441.11 150.55 L 601.41 150.55 " clip-path="url(#p9f455ea907)" style="fill: none; stroke-dasharray: 6.66,2.88; stroke-dashoffset: 0; stroke: #d0000c; stroke-width: 1.8"/> </g> </g> <g> <g> <path d="M 628.11 197.45 L 804.23 197.45 L 804.23 102.6 L 628.11 102.6 L 628.11 197.45 z " style="fill: none; opacity: 0"/> </g> <g> <g> <g> <g> <path d="M 0 0 L 0 4.2 " transform="translate(634.44 197.45)" style="fill: #262626; stroke: #262626; stroke-width: 1.1; stroke: #262626; stroke-width: 1.1"/> </g> </g> </g> <g> <g> <g> <path d="M 0 0 L 0 4.2 " transform="translate(679.22 197.45)" style="fill: #262626; stroke: #262626; stroke-width: 1.1; stroke: #262626; stroke-width: 1.1"/> </g> </g> </g> <g> <g> <g> <path d="M 0 0 L 0 4.2 " transform="translate(724 197.45)" style="fill: #262626; stroke: #262626; stroke-width: 1.1; stroke: #262626; stroke-width: 1.1"/> </g> </g> </g> <g> <g> <g> <path d="M 0 0 L 0 4.2 " transform="translate(768.77 197.45)" style="fill: #262626; stroke: #262626; stroke-width: 1.1; stroke: #262626; stroke-width: 1.1"/> </g> </g> </g> </g> <g> <g> <g> <g> <path d="M 0 0 L -4.2 0 " transform="translate(628.11 192.65)" style="fill: #262626; stroke: #262626; stroke-width: 1.1; stroke: #262626; stroke-width: 1.1"/> </g> </g> </g> <g> <g> <g> <path d="M 0 0 L -4.2 0 " transform="translate(628.11 171.6)" style="fill: #262626; stroke: #262626; stroke-width: 1.1; stroke: #262626; stroke-width: 1.1"/> </g> </g> </g> <g> <g> <g> <path d="M 0 0 L -4.2 0 " transform="translate(628.11 150.55)" style="fill: #262626; stroke: #262626; stroke-width: 1.1; stroke: #262626; stroke-width: 1.1"/> </g> </g> </g> <g> <g> <g> <path d="M 0 0 L -4.2 0 " transform="translate(628.11 129.5)" style="fill: #262626; stroke: #262626; stroke-width: 1.1; stroke: #262626; stroke-width: 1.1"/> </g> </g> </g> <g> <g> <g> <path d="M 0 0 L -4.2 0 " transform="translate(628.11 108.45)" style="fill: #262626; stroke: #262626; stroke-width: 1.1; stroke: #262626; stroke-width: 1.1"/> </g> </g> </g> </g> <g style="fill: #4067a9; fill-opacity: 0.8; stroke: #4067a9; stroke-opacity: 0.8; stroke-width: 0.6; stroke-width: 0.60" transform="translate(0.24 0.35)"><circle cx="637.65" cy="192.65" r="2.55"/><circle cx="639.86" cy="192.65" r="2.55"/><circle cx="642.38" cy="192.65" r="2.55"/><circle cx="644.10" cy="192.65" r="2.55"/><circle cx="646.23" cy="192.65" r="2.55"/><circle cx="649.10" cy="192.65" r="2.55"/><circle cx="651.97" cy="192.65" r="2.55"/><circle cx="653.38" cy="192.65" r="2.55"/><circle cx="654.94" cy="192.65" r="2.55"/><circle cx="656.20" cy="192.65" r="2.55"/><circle cx="658.20" cy="192.65" r="2.55"/><circle cx="659.43" cy="192.65" r="2.55"/><circle cx="661.46" cy="192.65" r="2.55"/><circle cx="663.86" cy="192.65" r="2.55"/><circle cx="665.56" cy="192.65" r="2.55"/><circle cx="668.01" cy="192.65" r="2.55"/><circle cx="670.30" cy="192.65" r="2.55"/><circle cx="672.24" cy="192.65" r="2.55"/><circle cx="682.71" cy="192.65" r="2.55"/><circle cx="684.94" cy="192.65" r="2.55"/><circle cx="686.59" cy="192.65" r="2.55"/><circle cx="688.55" cy="192.65" r="2.55"/><circle cx="690.26" cy="192.65" r="2.55"/><circle cx="692.74" cy="192.65" r="2.55"/><circle cx="694.75" cy="192.65" r="2.55"/><circle cx="696.21" cy="192.65" r="2.55"/><circle cx="698.41" cy="192.65" r="2.55"/><circle cx="701.06" cy="192.65" r="2.55"/><circle cx="702.81" cy="192.65" r="2.55"/><circle cx="704.40" cy="192.65" r="2.55"/><circle cx="706.30" cy="192.65" r="2.55"/><circle cx="709.25" cy="192.65" r="2.55"/><circle cx="712.28" cy="192.65" r="2.55"/><circle cx="714.72" cy="192.65" r="2.55"/><circle cx="717.61" cy="192.65" r="2.55"/><circle cx="720.39" cy="192.65" r="2.55"/><circle cx="722.27" cy="192.65" r="2.55"/><circle cx="723.76" cy="192.65" r="2.55"/><circle cx="651.06" cy="171.60" r="2.55"/><circle cx="653.47" cy="171.60" r="2.55"/><circle cx="655.70" cy="171.60" r="2.55"/><circle cx="657.55" cy="171.60" r="2.55"/><circle cx="659.14" cy="171.60" r="2.55"/><circle cx="661.08" cy="171.60" r="2.55"/><circle cx="663.14" cy="171.60" r="2.55"/><circle cx="664.82" cy="171.60" r="2.55"/><circle cx="666.54" cy="171.60" r="2.55"/><circle cx="668.58" cy="171.60" r="2.55"/><circle cx="671.38" cy="171.60" r="2.55"/><circle cx="673.66" cy="171.60" r="2.55"/><circle cx="675.37" cy="171.60" r="2.55"/><circle cx="677.06" cy="171.60" r="2.55"/><circle cx="679.10" cy="171.60" r="2.55"/><circle cx="680.65" cy="171.60" r="2.55"/><circle cx="682.20" cy="171.60" r="2.55"/><circle cx="684.34" cy="171.60" r="2.55"/><circle cx="685.68" cy="171.60" r="2.55"/><circle cx="687.76" cy="171.60" r="2.55"/><circle cx="689.62" cy="171.60" r="2.55"/><circle cx="692.13" cy="171.60" r="2.55"/><circle cx="694.72" cy="171.60" r="2.55"/><circle cx="697.20" cy="171.60" r="2.55"/><circle cx="699.68" cy="171.60" r="2.55"/><circle cx="701.55" cy="171.60" r="2.55"/><circle cx="703.99" cy="171.60" r="2.55"/><circle cx="705.81" cy="171.60" r="2.55"/><circle cx="708.06" cy="171.60" r="2.55"/><circle cx="709.85" cy="171.60" r="2.55"/><circle cx="711.41" cy="171.60" r="2.55"/><circle cx="720.00" cy="171.60" r="2.55"/><circle cx="721.28" cy="171.60" r="2.55"/><circle cx="722.91" cy="171.60" r="2.55"/><circle cx="725.93" cy="171.60" r="2.55"/><circle cx="727.53" cy="171.60" r="2.55"/><circle cx="730.01" cy="171.60" r="2.55"/><circle cx="732.42" cy="171.60" r="2.55"/><circle cx="734.96" cy="171.60" r="2.55"/><circle cx="737.03" cy="171.60" r="2.55"/><circle cx="739.33" cy="171.60" r="2.55"/><circle cx="740.63" cy="171.60" r="2.55"/><circle cx="741.93" cy="171.60" r="2.55"/><circle cx="743.47" cy="171.60" r="2.55"/><circle cx="744.82" cy="171.60" r="2.55"/><circle cx="660.82" cy="150.55" r="2.55"/><circle cx="662.18" cy="150.55" r="2.55"/><circle cx="663.59" cy="150.55" r="2.55"/><circle cx="665.81" cy="150.55" r="2.55"/><circle cx="667.33" cy="150.55" r="2.55"/><circle cx="670.31" cy="150.55" r="2.55"/><circle cx="672.78" cy="150.55" r="2.55"/><circle cx="674.97" cy="150.55" r="2.55"/><circle cx="677.48" cy="150.55" r="2.55"/><circle cx="679.15" cy="150.55" r="2.55"/><circle cx="682.08" cy="150.55" r="2.55"/><circle cx="684.85" cy="150.55" r="2.55"/><circle cx="687.40" cy="150.55" r="2.55"/><circle cx="689.48" cy="150.55" r="2.55"/><circle cx="692.24" cy="150.55" r="2.55"/><circle cx="694.83" cy="150.55" r="2.55"/><circle cx="697.25" cy="150.55" r="2.55"/><circle cx="700.16" cy="150.55" r="2.55"/><circle cx="702.53" cy="150.55" r="2.55"/><circle cx="704.39" cy="150.55" r="2.55"/><circle cx="706.61" cy="150.55" r="2.55"/><circle cx="708.15" cy="150.55" r="2.55"/><circle cx="709.68" cy="150.55" r="2.55"/><circle cx="712.23" cy="150.55" r="2.55"/><circle cx="714.89" cy="150.55" r="2.55"/><circle cx="716.47" cy="150.55" r="2.55"/><circle cx="728.35" cy="150.55" r="2.55"/><circle cx="731.14" cy="150.55" r="2.55"/><circle cx="733.34" cy="150.55" r="2.55"/><circle cx="734.68" cy="150.55" r="2.55"/><circle cx="736.77" cy="150.55" r="2.55"/><circle cx="739.71" cy="150.55" r="2.55"/><circle cx="742.37" cy="150.55" r="2.55"/><circle cx="744.46" cy="150.55" r="2.55"/><circle cx="746.49" cy="150.55" r="2.55"/><circle cx="748.07" cy="150.55" r="2.55"/><circle cx="749.58" cy="150.55" r="2.55"/><circle cx="750.88" cy="150.55" r="2.55"/><circle cx="753.75" cy="150.55" r="2.55"/><circle cx="756.13" cy="150.55" r="2.55"/><circle cx="757.57" cy="150.55" r="2.55"/><circle cx="759.52" cy="150.55" r="2.55"/><circle cx="760.78" cy="150.55" r="2.55"/><circle cx="762.35" cy="150.55" r="2.55"/><circle cx="667.76" cy="129.50" r="2.55"/><circle cx="670.32" cy="129.50" r="2.55"/><circle cx="672.73" cy="129.50" r="2.55"/><circle cx="674.81" cy="129.50" r="2.55"/><circle cx="676.49" cy="129.50" r="2.55"/><circle cx="678.90" cy="129.50" r="2.55"/><circle cx="681.89" cy="129.50" r="2.55"/><circle cx="683.88" cy="129.50" r="2.55"/><circle cx="685.18" cy="129.50" r="2.55"/><circle cx="686.46" cy="129.50" r="2.55"/><circle cx="688.94" cy="129.50" r="2.55"/><circle cx="695.71" cy="129.50" r="2.55"/><circle cx="703.29" cy="129.50" r="2.55"/><circle cx="706.29" cy="129.50" r="2.55"/><circle cx="708.48" cy="129.50" r="2.55"/><circle cx="711.24" cy="129.50" r="2.55"/><circle cx="712.73" cy="129.50" r="2.55"/><circle cx="714.39" cy="129.50" r="2.55"/><circle cx="716.88" cy="129.50" r="2.55"/><circle cx="719.75" cy="129.50" r="2.55"/><circle cx="721.56" cy="129.50" r="2.55"/><circle cx="722.85" cy="129.50" r="2.55"/><circle cx="725.66" cy="129.50" r="2.55"/><circle cx="727.38" cy="129.50" r="2.55"/><circle cx="731.18" cy="129.50" r="2.55"/><circle cx="742.71" cy="129.50" r="2.55"/><circle cx="744.17" cy="129.50" r="2.55"/><circle cx="746.66" cy="129.50" r="2.55"/><circle cx="749.43" cy="129.50" r="2.55"/><circle cx="751.98" cy="129.50" r="2.55"/><circle cx="753.83" cy="129.50" r="2.55"/><circle cx="756.38" cy="129.50" r="2.55"/><circle cx="757.81" cy="129.50" r="2.55"/><circle cx="759.57" cy="129.50" r="2.55"/><circle cx="761.54" cy="129.50" r="2.55"/><circle cx="764.37" cy="129.50" r="2.55"/><circle cx="765.83" cy="129.50" r="2.55"/><circle cx="768.67" cy="129.50" r="2.55"/><circle cx="771.88" cy="129.50" r="2.55"/><circle cx="687.76" cy="108.45" r="2.55"/><circle cx="693.65" cy="108.45" r="2.55"/><circle cx="701.88" cy="108.45" r="2.55"/><circle cx="704.90" cy="108.45" r="2.55"/><circle cx="706.76" cy="108.45" r="2.55"/><circle cx="708.32" cy="108.45" r="2.55"/><circle cx="709.94" cy="108.45" r="2.55"/><circle cx="712.69" cy="108.45" r="2.55"/><circle cx="715.41" cy="108.45" r="2.55"/><circle cx="724.82" cy="108.45" r="2.55"/><circle cx="727.32" cy="108.45" r="2.55"/><circle cx="729.40" cy="108.45" r="2.55"/><circle cx="731.12" cy="108.45" r="2.55"/><circle cx="733.87" cy="108.45" r="2.55"/><circle cx="736.70" cy="108.45" r="2.55"/><circle cx="738.04" cy="108.45" r="2.55"/><circle cx="739.61" cy="108.45" r="2.55"/><circle cx="742.36" cy="108.45" r="2.55"/><circle cx="745.14" cy="108.45" r="2.55"/><circle cx="746.91" cy="108.45" r="2.55"/><circle cx="748.61" cy="108.45" r="2.55"/><circle cx="750.59" cy="108.45" r="2.55"/><circle cx="752.78" cy="108.45" r="2.55"/><circle cx="754.13" cy="108.45" r="2.55"/><circle cx="756.89" cy="108.45" r="2.55"/><circle cx="759.08" cy="108.45" r="2.55"/><circle cx="761.72" cy="108.45" r="2.55"/><circle cx="763.32" cy="108.45" r="2.55"/><circle cx="766.33" cy="108.45" r="2.55"/><circle cx="768.92" cy="108.45" r="2.55"/><circle cx="770.74" cy="108.45" r="2.55"/><circle cx="773.71" cy="108.45" r="2.55"/><circle cx="776.21" cy="108.45" r="2.55"/><circle cx="778.98" cy="108.45" r="2.55"/><circle cx="780.23" cy="108.45" r="2.55"/><circle cx="781.50" cy="108.45" r="2.55"/><circle cx="784.08" cy="108.45" r="2.55"/><circle cx="785.83" cy="108.45" r="2.55"/><circle cx="787.98" cy="108.45" r="2.55"/><circle cx="789.44" cy="108.45" r="2.55"/><circle cx="792.47" cy="108.45" r="2.55"/><circle cx="794.59" cy="108.45" r="2.55"/><circle cx="796.35" cy="108.45" r="2.55"/></g> <g> <path d="M 628.11 197.45 L 628.11 102.6 " style="fill: none; stroke: #262626; stroke-width: 1.15; stroke-linejoin: miter; stroke-linecap: square"/> </g> <g> <path d="M 628.11 197.45 L 804.23 197.45 " style="fill: none; stroke: #262626; stroke-width: 1.25; stroke-linejoin: miter; stroke-linecap: square"/> </g> <g> <path d="M 636.47 182.08 L 636.47 192.60 L 639.19 191.19 L 641.91 189.78 L 644.62 188.37 L 647.34 186.96 L 650.05 185.55 L 652.77 184.14 L 655.48 182.73 L 658.20 181.33 L 660.91 179.92 L 663.63 178.52 L 666.34 177.12 L 669.06 175.73 L 671.77 174.33 L 674.49 172.94 L 677.20 171.56 L 679.92 170.17 L 682.63 168.79 L 685.35 167.42 L 688.07 166.05 L 690.78 164.68 L 693.50 163.32 L 696.21 161.97 L 698.93 160.63 L 701.64 159.30 L 704.36 157.98 L 707.07 156.67 L 709.79 155.36 L 712.50 154.08 L 715.22 152.80 L 717.93 151.54 L 720.65 150.28 L 723.36 149.05 L 726.08 147.82 L 728.79 146.60 L 731.51 145.40 L 734.22 144.20 L 736.94 143.02 L 739.66 141.84 L 742.37 140.67 L 745.09 139.51 L 747.80 138.35 L 750.52 137.20 L 753.23 136.05 L 755.95 134.91 L 758.66 133.77 L 761.38 132.63 L 764.09 131.50 L 766.81 130.37 L 769.52 129.24 L 772.24 128.11 L 774.95 126.99 L 777.67 125.87 L 780.38 124.74 L 783.10 123.62 L 785.82 122.51 L 788.53 121.39 L 791.25 120.27 L 793.96 119.16 L 796.68 118.04 L 796.68 107.52 L 796.68 107.52 L 793.96 108.93 L 791.25 110.34 L 788.53 111.76 L 785.82 113.17 L 783.10 114.57 L 780.38 115.98 L 777.67 117.39 L 774.95 118.79 L 772.24 120.20 L 769.52 121.60 L 766.81 123.00 L 764.09 124.39 L 761.38 125.79 L 758.66 127.18 L 755.95 128.57 L 753.23 129.95 L 750.52 131.33 L 747.80 132.71 L 745.09 134.08 L 742.37 135.44 L 739.66 136.80 L 736.94 138.15 L 734.22 139.49 L 731.51 140.82 L 728.79 142.14 L 726.08 143.46 L 723.36 144.76 L 720.65 146.05 L 717.93 147.32 L 715.22 148.59 L 712.50 149.84 L 709.79 151.08 L 707.07 152.30 L 704.36 153.52 L 701.64 154.72 L 698.93 155.92 L 696.21 157.10 L 693.50 158.28 L 690.78 159.45 L 688.07 160.61 L 685.35 161.77 L 682.63 162.92 L 679.92 164.07 L 677.20 165.21 L 674.49 166.35 L 671.77 167.49 L 669.06 168.62 L 666.34 169.75 L 663.63 170.88 L 660.91 172.01 L 658.20 173.13 L 655.48 174.26 L 652.77 175.38 L 650.05 176.50 L 647.34 177.62 L 644.62 178.73 L 641.91 179.85 L 639.19 180.96 L 636.47 182.08 z " clip-path="url(#pc034254808)" style="fill: #d0000c; fill-opacity: 0.15"/> </g> <g> <path d="M 636.47 187.34 L 796.68 112.78 " clip-path="url(#pc034254808)" style="fill: none; stroke-dasharray: 6.66,2.88; stroke-dashoffset: 0; stroke: #d0000c; stroke-width: 1.8"/> </g> </g> <g> <g> <path d="M 41.94 299.85 L 218.05 299.85 L 218.05 205 L 41.94 205 L 41.94 299.85 z " style="fill: none; opacity: 0"/> </g> <g> <g> <g> <g> <path d="M 0 0 L 0 4.2 " transform="translate(49.94 299.85)" style="fill: #262626; stroke: #262626; stroke-width: 1.1; stroke: #262626; stroke-width: 1.1"/> </g> </g> </g> <g> <g> <g> <path d="M 0 0 L 0 4.2 " transform="translate(89.97 299.85)" style="fill: #262626; stroke: #262626; stroke-width: 1.1; stroke: #262626; stroke-width: 1.1"/> </g> </g> </g> <g> <g> <g> <path d="M 0 0 L 0 4.2 " transform="translate(130 299.85)" style="fill: #262626; stroke: #262626; stroke-width: 1.1; stroke: #262626; stroke-width: 1.1"/> </g> </g> </g> <g> <g> <g> <path d="M 0 0 L 0 4.2 " transform="translate(170.02 299.85)" style="fill: #262626; stroke: #262626; stroke-width: 1.1; stroke: #262626; stroke-width: 1.1"/> </g> </g> </g> <g> <g> <g> <path d="M 0 0 L 0 4.2 " transform="translate(210.05 299.85)" style="fill: #262626; stroke: #262626; stroke-width: 1.1; stroke: #262626; stroke-width: 1.1"/> </g> </g> </g> </g> <g> <g> <g> <g> <path d="M 0 0 L -4.2 0 " transform="translate(41.94 287.5)" style="fill: #262626; stroke: #262626; stroke-width: 1.1; stroke: #262626; stroke-width: 1.1"/> </g> </g> <g> <text style="font-size: 8.70px; font-family: 'DejaVu Serif', serif; text-anchor: end; fill: #262626" x="34.74" y="291.32" transform="translate(34.74 291.32) scale(0.925 1) translate(-34.74 -291.32)">0.0</text> </g> </g> <g> <g> <g> <path d="M 0 0 L -4.2 0 " transform="translate(41.94 253.9)" style="fill: #262626; stroke: #262626; stroke-width: 1.1; stroke: #262626; stroke-width: 1.1"/> </g> </g> <g> <text style="font-size: 8.70px; font-family: 'DejaVu Serif', serif; text-anchor: end; fill: #262626" x="34.74" y="257.72" transform="translate(34.74 257.72) scale(0.925 1) translate(-34.74 -257.72)">0.5</text> </g> </g> <g> <g> <g> <path d="M 0 0 L -4.2 0 " transform="translate(41.94 220.3)" style="fill: #262626; stroke: #262626; stroke-width: 1.1; stroke: #262626; stroke-width: 1.1"/> </g> </g> <g> <text style="font-size: 8.70px; font-family: 'DejaVu Serif', serif; text-anchor: end; fill: #262626" x="34.74" y="224.12" transform="translate(34.74 224.12) scale(0.925 1) translate(-34.74 -224.12)">1.0</text> </g> </g> </g> <g style="fill: #4067a9; stroke: #4067a9; stroke-width: 0.6; stroke-width: 0.60" transform="translate(0.24 0.35)"><circle cx="49.94" cy="287.50" r="2.55"/><circle cx="89.97" cy="287.50" r="2.55"/><circle cx="130.00" cy="287.50" r="2.55"/><circle cx="170.03" cy="287.50" r="2.55"/><circle cx="210.06" cy="287.50" r="2.55"/><circle cx="49.94" cy="270.70" r="2.55"/><circle cx="89.97" cy="270.70" r="2.55"/><circle cx="130.00" cy="270.70" r="2.55"/><circle cx="170.03" cy="270.70" r="2.55"/><circle cx="210.06" cy="270.70" r="2.55"/><circle cx="49.94" cy="253.90" r="2.55"/><circle cx="89.97" cy="253.90" r="2.55"/><circle cx="130.00" cy="253.90" r="2.55"/><circle cx="170.03" cy="253.90" r="2.55"/><circle cx="210.06" cy="253.90" r="2.55"/><circle cx="49.94" cy="237.10" r="2.55"/><circle cx="89.97" cy="237.10" r="2.55"/><circle cx="130.00" cy="237.10" r="2.55"/><circle cx="170.03" cy="237.10" r="2.55"/><circle cx="210.06" cy="237.10" r="2.55"/><circle cx="49.94" cy="220.30" r="2.55"/><circle cx="89.97" cy="220.30" r="2.55"/><circle cx="130.00" cy="220.30" r="2.55"/><circle cx="170.03" cy="220.30" r="2.55"/><circle cx="210.06" cy="220.30" r="2.55"/></g> <g> <path d="M 41.94 299.85 L 41.94 205 " style="fill: none; stroke: #262626; stroke-width: 1.15; stroke-linejoin: miter; stroke-linecap: square"/> </g> <g> <path d="M 41.94 299.85 L 218.05 299.85 " style="fill: none; stroke: #262626; stroke-width: 1.25; stroke-linejoin: miter; stroke-linecap: square"/> </g> <g> <path d="M 49.94 248.52 L 49.94 259.27 L 52.65 259.15 L 55.36 259.03 L 58.08 258.91 L 60.79 258.80 L 63.51 258.68 L 66.22 258.57 L 68.93 258.46 L 71.65 258.35 L 74.36 258.24 L 77.07 258.14 L 79.79 258.04 L 82.50 257.94 L 85.22 257.85 L 87.93 257.75 L 90.64 257.67 L 93.36 257.58 L 96.07 257.50 L 98.79 257.43 L 101.50 257.36 L 104.21 257.30 L 106.93 257.24 L 109.64 257.18 L 112.35 257.13 L 115.07 257.09 L 117.78 257.06 L 120.50 257.03 L 123.21 257.01 L 125.92 256.99 L 128.64 256.99 L 131.35 256.99 L 134.07 256.99 L 136.78 257.01 L 139.49 257.03 L 142.21 257.06 L 144.92 257.09 L 147.64 257.13 L 150.35 257.18 L 153.06 257.24 L 155.78 257.30 L 158.49 257.36 L 161.20 257.43 L 163.92 257.50 L 166.63 257.58 L 169.35 257.67 L 172.06 257.75 L 174.77 257.85 L 177.49 257.94 L 180.20 258.04 L 182.92 258.14 L 185.63 258.24 L 188.34 258.35 L 191.06 258.46 L 193.77 258.57 L 196.48 258.68 L 199.20 258.80 L 201.91 258.91 L 204.63 259.03 L 207.34 259.15 L 210.05 259.27 L 210.05 248.52 L 210.05 248.52 L 207.34 248.64 L 204.63 248.76 L 201.91 248.88 L 199.20 248.99 L 196.48 249.11 L 193.77 249.22 L 191.06 249.33 L 188.34 249.44 L 185.63 249.55 L 182.92 249.65 L 180.20 249.75 L 177.49 249.85 L 174.77 249.94 L 172.06 250.04 L 169.35 250.12 L 166.63 250.21 L 163.92 250.29 L 161.20 250.36 L 158.49 250.43 L 155.78 250.49 L 153.06 250.55 L 150.35 250.61 L 147.64 250.66 L 144.92 250.70 L 142.21 250.73 L 139.49 250.76 L 136.78 250.78 L 134.07 250.80 L 131.35 250.80 L 128.64 250.80 L 125.92 250.80 L 123.21 250.78 L 120.50 250.76 L 117.78 250.73 L 115.07 250.70 L 112.35 250.66 L 109.64 250.61 L 106.93 250.55 L 104.21 250.49 L 101.50 250.43 L 98.79 250.36 L 96.07 250.29 L 93.36 250.21 L 90.64 250.12 L 87.93 250.04 L 85.22 249.94 L 82.50 249.85 L 79.79 249.75 L 77.07 249.65 L 74.36 249.55 L 71.65 249.44 L 68.93 249.33 L 66.22 249.22 L 63.51 249.11 L 60.79 248.99 L 58.08 248.88 L 55.36 248.76 L 52.65 248.64 L 49.94 248.52 z " clip-path="url(#p61c2cfd841)" style="fill: #d0000c; fill-opacity: 0.15"/> </g> <g> <path d="M 49.94 253.9 L 210.05 253.9 " clip-path="url(#p61c2cfd841)" style="fill: none; stroke-dasharray: 6.66,2.88; stroke-dashoffset: 0; stroke: #d0000c; stroke-width: 1.8"/> </g> </g> <g> <g> <path d="M 237.35 299.85 L 413.82 299.85 L 413.82 205 L 237.35 205 L 237.35 299.85 z " style="fill: none; opacity: 0"/> </g> <g> <g> <g> <g> <path d="M 0 0 L 0 4.2 " transform="translate(245.37 299.85)" style="fill: #262626; stroke: #262626; stroke-width: 1.1; stroke: #262626; stroke-width: 1.1"/> </g> </g> </g> <g> <g> <g> <path d="M 0 0 L 0 4.2 " transform="translate(285.47 299.85)" style="fill: #262626; stroke: #262626; stroke-width: 1.1; stroke: #262626; stroke-width: 1.1"/> </g> </g> </g> <g> <g> <g> <path d="M 0 0 L 0 4.2 " transform="translate(325.57 299.85)" style="fill: #262626; stroke: #262626; stroke-width: 1.1; stroke: #262626; stroke-width: 1.1"/> </g> </g> </g> <g> <g> <g> <path d="M 0 0 L 0 4.2 " transform="translate(365.66 299.85)" style="fill: #262626; stroke: #262626; stroke-width: 1.1; stroke: #262626; stroke-width: 1.1"/> </g> </g> </g> <g> <g> <g> <path d="M 0 0 L 0 4.2 " transform="translate(405.76 299.85)" style="fill: #262626; stroke: #262626; stroke-width: 1.1; stroke: #262626; stroke-width: 1.1"/> </g> </g> </g> </g> <g> <g> <g> <g> <path d="M 0 0 L -4.2 0 " transform="translate(237.35 287.5)" style="fill: #262626; stroke: #262626; stroke-width: 1.1; stroke: #262626; stroke-width: 1.1"/> </g> </g> </g> <g> <g> <g> <path d="M 0 0 L -4.2 0 " transform="translate(237.35 253.9)" style="fill: #262626; stroke: #262626; stroke-width: 1.1; stroke: #262626; stroke-width: 1.1"/> </g> </g> </g> <g> <g> <g> <path d="M 0 0 L -4.2 0 " transform="translate(237.35 220.3)" style="fill: #262626; stroke: #262626; stroke-width: 1.1; stroke: #262626; stroke-width: 1.1"/> </g> </g> </g> </g> <g style="fill: #4067a9; stroke: #4067a9; stroke-width: 0.6; stroke-width: 0.60" transform="translate(0.24 0.35)"><circle cx="245.38" cy="287.50" r="2.55"/><circle cx="285.47" cy="287.50" r="2.55"/><circle cx="325.57" cy="287.50" r="2.55"/><circle cx="365.67" cy="287.50" r="2.55"/><circle cx="405.76" cy="287.50" r="2.55"/><circle cx="245.38" cy="270.70" r="2.55"/><circle cx="285.47" cy="270.70" r="2.55"/><circle cx="325.57" cy="270.70" r="2.55"/><circle cx="365.67" cy="270.70" r="2.55"/><circle cx="405.76" cy="270.70" r="2.55"/><circle cx="245.38" cy="253.90" r="2.55"/><circle cx="285.47" cy="253.90" r="2.55"/><circle cx="325.57" cy="253.90" r="2.55"/><circle cx="365.67" cy="253.90" r="2.55"/><circle cx="405.76" cy="253.90" r="2.55"/><circle cx="245.38" cy="237.10" r="2.55"/><circle cx="285.47" cy="237.10" r="2.55"/><circle cx="325.57" cy="237.10" r="2.55"/><circle cx="365.67" cy="237.10" r="2.55"/><circle cx="405.76" cy="237.10" r="2.55"/><circle cx="245.38" cy="220.30" r="2.55"/><circle cx="285.47" cy="220.30" r="2.55"/><circle cx="325.57" cy="220.30" r="2.55"/><circle cx="365.67" cy="220.30" r="2.55"/><circle cx="405.76" cy="220.30" r="2.55"/></g> <g> <path d="M 237.35 299.85 L 237.35 205 " style="fill: none; stroke: #262626; stroke-width: 1.15; stroke-linejoin: miter; stroke-linecap: square"/> </g> <g> <path d="M 237.35 299.85 L 413.82 299.85 " style="fill: none; stroke: #262626; stroke-width: 1.25; stroke-linejoin: miter; stroke-linecap: square"/> </g> <g> <path d="M 245.37 248.52 L 245.37 259.27 L 248.09 259.15 L 250.81 259.03 L 253.53 258.91 L 256.25 258.80 L 258.96 258.68 L 261.68 258.57 L 264.40 258.46 L 267.12 258.35 L 269.84 258.24 L 272.56 258.14 L 275.27 258.04 L 277.99 257.94 L 280.71 257.85 L 283.43 257.75 L 286.15 257.67 L 288.87 257.58 L 291.59 257.50 L 294.30 257.43 L 297.02 257.36 L 299.74 257.30 L 302.46 257.24 L 305.18 257.18 L 307.90 257.13 L 310.61 257.09 L 313.33 257.06 L 316.05 257.03 L 318.77 257.01 L 321.49 256.99 L 324.21 256.99 L 326.92 256.99 L 329.64 256.99 L 332.36 257.01 L 335.08 257.03 L 337.80 257.06 L 340.52 257.09 L 343.24 257.13 L 345.95 257.18 L 348.67 257.24 L 351.39 257.30 L 354.11 257.36 L 356.83 257.43 L 359.55 257.50 L 362.26 257.58 L 364.98 257.67 L 367.70 257.75 L 370.42 257.85 L 373.14 257.94 L 375.86 258.04 L 378.58 258.14 L 381.29 258.24 L 384.01 258.35 L 386.73 258.46 L 389.45 258.57 L 392.17 258.68 L 394.89 258.80 L 397.60 258.91 L 400.32 259.03 L 403.04 259.15 L 405.76 259.27 L 405.76 248.52 L 405.76 248.52 L 403.04 248.64 L 400.32 248.76 L 397.60 248.88 L 394.89 248.99 L 392.17 249.11 L 389.45 249.22 L 386.73 249.33 L 384.01 249.44 L 381.29 249.55 L 378.58 249.65 L 375.86 249.75 L 373.14 249.85 L 370.42 249.94 L 367.70 250.04 L 364.98 250.12 L 362.26 250.21 L 359.55 250.29 L 356.83 250.36 L 354.11 250.43 L 351.39 250.49 L 348.67 250.55 L 345.95 250.61 L 343.24 250.66 L 340.52 250.70 L 337.80 250.73 L 335.08 250.76 L 332.36 250.78 L 329.64 250.80 L 326.92 250.80 L 324.21 250.80 L 321.49 250.80 L 318.77 250.78 L 316.05 250.76 L 313.33 250.73 L 310.61 250.70 L 307.90 250.66 L 305.18 250.61 L 302.46 250.55 L 299.74 250.49 L 297.02 250.43 L 294.30 250.36 L 291.59 250.29 L 288.87 250.21 L 286.15 250.12 L 283.43 250.04 L 280.71 249.94 L 277.99 249.85 L 275.27 249.75 L 272.56 249.65 L 269.84 249.55 L 267.12 249.44 L 264.40 249.33 L 261.68 249.22 L 258.96 249.11 L 256.25 248.99 L 253.53 248.88 L 250.81 248.76 L 248.09 248.64 L 245.37 248.52 z " clip-path="url(#p273818b134)" style="fill: #d0000c; fill-opacity: 0.15"/> </g> <g> <path d="M 245.37 253.9 L 405.76 253.9 " clip-path="url(#p273818b134)" style="fill: none; stroke-dasharray: 6.66,2.88; stroke-dashoffset: 0; stroke: #d0000c; stroke-width: 1.8"/> </g> </g> <g> <g> <path d="M 433.11 299.85 L 609.47 299.85 L 609.47 205 L 433.11 205 L 433.11 299.85 z " style="fill: none; opacity: 0"/> </g> <g> <g> <g> <g> <path d="M 0 0 L 0 4.2 " transform="translate(441.11 299.85)" style="fill: #262626; stroke: #262626; stroke-width: 1.1; stroke: #262626; stroke-width: 1.1"/> </g> </g> </g> <g> <g> <g> <path d="M 0 0 L 0 4.2 " transform="translate(473.17 299.85)" style="fill: #262626; stroke: #262626; stroke-width: 1.1; stroke: #262626; stroke-width: 1.1"/> </g> </g> </g> <g> <g> <g> <path d="M 0 0 L 0 4.2 " transform="translate(505.23 299.85)" style="fill: #262626; stroke: #262626; stroke-width: 1.1; stroke: #262626; stroke-width: 1.1"/> </g> </g> </g> <g> <g> <g> <path d="M 0 0 L 0 4.2 " transform="translate(537.29 299.85)" style="fill: #262626; stroke: #262626; stroke-width: 1.1; stroke: #262626; stroke-width: 1.1"/> </g> </g> </g> <g> <g> <g> <path d="M 0 0 L 0 4.2 " transform="translate(569.35 299.85)" style="fill: #262626; stroke: #262626; stroke-width: 1.1; stroke: #262626; stroke-width: 1.1"/> </g> </g> </g> <g> <g> <g> <path d="M 0 0 L 0 4.2 " transform="translate(601.41 299.85)" style="fill: #262626; stroke: #262626; stroke-width: 1.1; stroke: #262626; stroke-width: 1.1"/> </g> </g> </g> </g> <g> <g> <g> <g> <path d="M 0 0 L -4.2 0 " transform="translate(433.11 287.5)" style="fill: #262626; stroke: #262626; stroke-width: 1.1; stroke: #262626; stroke-width: 1.1"/> </g> </g> </g> <g> <g> <g> <path d="M 0 0 L -4.2 0 " transform="translate(433.11 253.9)" style="fill: #262626; stroke: #262626; stroke-width: 1.1; stroke: #262626; stroke-width: 1.1"/> </g> </g> </g> <g> <g> <g> <path d="M 0 0 L -4.2 0 " transform="translate(433.11 220.3)" style="fill: #262626; stroke: #262626; stroke-width: 1.1; stroke: #262626; stroke-width: 1.1"/> </g> </g> </g> </g> <g> <path d="M 433.11 299.85 L 433.11 205 " style="fill: none; stroke: #262626; stroke-width: 1.15; stroke-linejoin: miter; stroke-linecap: square"/> </g> <g> <path d="M 433.11 299.85 L 609.47 299.85 " style="fill: none; stroke: #262626; stroke-width: 1.25; stroke-linejoin: miter; stroke-linecap: square"/> </g> </g> <g> <g> <path d="M 628.11 299.85 L 804.23 299.85 L 804.23 205 L 628.11 205 L 628.11 299.85 z " style="fill: none; opacity: 0"/> </g> <g> <g> <g> <g> <path d="M 0 0 L 0 4.2 " transform="translate(634.44 299.85)" style="fill: #262626; stroke: #262626; stroke-width: 1.1; stroke: #262626; stroke-width: 1.1"/> </g> </g> </g> <g> <g> <g> <path d="M 0 0 L 0 4.2 " transform="translate(679.22 299.85)" style="fill: #262626; stroke: #262626; stroke-width: 1.1; stroke: #262626; stroke-width: 1.1"/> </g> </g> </g> <g> <g> <g> <path d="M 0 0 L 0 4.2 " transform="translate(724 299.85)" style="fill: #262626; stroke: #262626; stroke-width: 1.1; stroke: #262626; stroke-width: 1.1"/> </g> </g> </g> <g> <g> <g> <path d="M 0 0 L 0 4.2 " transform="translate(768.77 299.85)" style="fill: #262626; stroke: #262626; stroke-width: 1.1; stroke: #262626; stroke-width: 1.1"/> </g> </g> </g> </g> <g> <g> <g> <g> <path d="M 0 0 L -4.2 0 " transform="translate(628.11 287.5)" style="fill: #262626; stroke: #262626; stroke-width: 1.1; stroke: #262626; stroke-width: 1.1"/> </g> </g> </g> <g> <g> <g> <path d="M 0 0 L -4.2 0 " transform="translate(628.11 253.9)" style="fill: #262626; stroke: #262626; stroke-width: 1.1; stroke: #262626; stroke-width: 1.1"/> </g> </g> </g> <g> <g> <g> <path d="M 0 0 L -4.2 0 " transform="translate(628.11 220.3)" style="fill: #262626; stroke: #262626; stroke-width: 1.1; stroke: #262626; stroke-width: 1.1"/> </g> </g> </g> </g> <g style="fill: #4067a9; fill-opacity: 0.8; stroke: #4067a9; stroke-opacity: 0.8; stroke-width: 0.6; stroke-width: 0.60" transform="translate(0.24 0.35)"><circle cx="714.35" cy="220.30" r="2.55"/><circle cx="715.66" cy="220.30" r="2.55"/><circle cx="717.74" cy="220.30" r="2.55"/><circle cx="719.02" cy="220.30" r="2.55"/><circle cx="721.87" cy="220.30" r="2.55"/><circle cx="723.76" cy="220.30" r="2.55"/><circle cx="730.94" cy="220.30" r="2.55"/><circle cx="738.59" cy="220.30" r="2.55"/><circle cx="739.88" cy="220.30" r="2.55"/><circle cx="741.19" cy="220.30" r="2.55"/><circle cx="743.39" cy="220.30" r="2.55"/><circle cx="744.69" cy="220.30" r="2.55"/><circle cx="747.41" cy="220.30" r="2.55"/><circle cx="755.65" cy="220.30" r="2.55"/><circle cx="757.64" cy="220.30" r="2.55"/><circle cx="759.76" cy="220.30" r="2.55"/><circle cx="762.03" cy="220.30" r="2.55"/><circle cx="764.38" cy="220.30" r="2.55"/><circle cx="766.26" cy="220.30" r="2.55"/><circle cx="768.60" cy="220.30" r="2.55"/><circle cx="770.06" cy="220.30" r="2.55"/><circle cx="771.75" cy="220.30" r="2.55"/><circle cx="774.44" cy="220.30" r="2.55"/><circle cx="775.90" cy="220.30" r="2.55"/><circle cx="777.49" cy="220.30" r="2.55"/><circle cx="779.12" cy="220.30" r="2.55"/><circle cx="781.19" cy="220.30" r="2.55"/><circle cx="782.36" cy="220.30" r="2.55"/><circle cx="783.58" cy="220.30" r="2.55"/><circle cx="785.63" cy="220.30" r="2.55"/><circle cx="787.10" cy="220.30" r="2.55"/><circle cx="789.56" cy="220.30" r="2.55"/><circle cx="792.24" cy="220.30" r="2.55"/><circle cx="794.51" cy="220.30" r="2.55"/><circle cx="796.35" cy="220.30" r="2.55"/><circle cx="700.00" cy="237.10" r="2.55"/><circle cx="701.91" cy="237.10" r="2.55"/><circle cx="703.16" cy="237.10" r="2.55"/><circle cx="705.16" cy="237.10" r="2.55"/><circle cx="707.04" cy="237.10" r="2.55"/><circle cx="708.82" cy="237.10" r="2.55"/><circle cx="720.00" cy="237.10" r="2.55"/><circle cx="721.42" cy="237.10" r="2.55"/><circle cx="723.02" cy="237.10" r="2.55"/><circle cx="725.74" cy="237.10" r="2.55"/><circle cx="727.41" cy="237.10" r="2.55"/><circle cx="729.35" cy="237.10" r="2.55"/><circle cx="732.30" cy="237.10" r="2.55"/><circle cx="733.99" cy="237.10" r="2.55"/><circle cx="735.43" cy="237.10" r="2.55"/><circle cx="737.93" cy="237.10" r="2.55"/><circle cx="740.18" cy="237.10" r="2.55"/><circle cx="742.51" cy="237.10" r="2.55"/><circle cx="743.76" cy="237.10" r="2.55"/><circle cx="745.72" cy="237.10" r="2.55"/><circle cx="746.89" cy="237.10" r="2.55"/><circle cx="748.52" cy="237.10" r="2.55"/><circle cx="751.03" cy="237.10" r="2.55"/><circle cx="752.32" cy="237.10" r="2.55"/><circle cx="754.04" cy="237.10" r="2.55"/><circle cx="755.76" cy="237.10" r="2.55"/><circle cx="762.94" cy="237.10" r="2.55"/><circle cx="770.00" cy="237.10" r="2.55"/><circle cx="777.65" cy="237.10" r="2.55"/><circle cx="784.71" cy="237.10" r="2.55"/><circle cx="790.88" cy="237.10" r="2.55"/><circle cx="682.24" cy="253.90" r="2.55"/><circle cx="685.25" cy="253.90" r="2.55"/><circle cx="687.33" cy="253.90" r="2.55"/><circle cx="689.90" cy="253.90" r="2.55"/><circle cx="692.27" cy="253.90" r="2.55"/><circle cx="694.32" cy="253.90" r="2.55"/><circle cx="697.12" cy="253.90" r="2.55"/><circle cx="698.62" cy="253.90" r="2.55"/><circle cx="701.36" cy="253.90" r="2.55"/><circle cx="702.60" cy="253.90" r="2.55"/><circle cx="705.42" cy="253.90" r="2.55"/><circle cx="707.87" cy="253.90" r="2.55"/><circle cx="709.89" cy="253.90" r="2.55"/><circle cx="712.33" cy="253.90" r="2.55"/><circle cx="714.38" cy="253.90" r="2.55"/><circle cx="717.03" cy="253.90" r="2.55"/><circle cx="718.41" cy="253.90" r="2.55"/><circle cx="720.54" cy="253.90" r="2.55"/><circle cx="723.37" cy="253.90" r="2.55"/><circle cx="726.30" cy="253.90" r="2.55"/><circle cx="727.88" cy="253.90" r="2.55"/><circle cx="729.53" cy="253.90" r="2.55"/><circle cx="731.41" cy="253.90" r="2.55"/><circle cx="745.06" cy="253.90" r="2.55"/><circle cx="746.88" cy="253.90" r="2.55"/><circle cx="748.16" cy="253.90" r="2.55"/><circle cx="750.68" cy="253.90" r="2.55"/><circle cx="752.64" cy="253.90" r="2.55"/><circle cx="755.20" cy="253.90" r="2.55"/><circle cx="757.28" cy="253.90" r="2.55"/><circle cx="759.40" cy="253.90" r="2.55"/><circle cx="761.06" cy="253.90" r="2.55"/><circle cx="658.71" cy="270.70" r="2.55"/><circle cx="660.42" cy="270.70" r="2.55"/><circle cx="663.31" cy="270.70" r="2.55"/><circle cx="665.74" cy="270.70" r="2.55"/><circle cx="668.41" cy="270.70" r="2.55"/><circle cx="671.28" cy="270.70" r="2.55"/><circle cx="672.93" cy="270.70" r="2.55"/><circle cx="675.84" cy="270.70" r="2.55"/><circle cx="678.65" cy="270.70" r="2.55"/><circle cx="680.78" cy="270.70" r="2.55"/><circle cx="683.03" cy="270.70" r="2.55"/><circle cx="684.41" cy="270.70" r="2.55"/><circle cx="687.03" cy="270.70" r="2.55"/><circle cx="688.53" cy="270.70" r="2.55"/><circle cx="690.71" cy="270.70" r="2.55"/><circle cx="692.11" cy="270.70" r="2.55"/><circle cx="693.42" cy="270.70" r="2.55"/><circle cx="695.74" cy="270.70" r="2.55"/><circle cx="697.84" cy="270.70" r="2.55"/><circle cx="700.29" cy="270.70" r="2.55"/><circle cx="703.18" cy="270.70" r="2.55"/><circle cx="711.06" cy="270.70" r="2.55"/><circle cx="714.10" cy="270.70" r="2.55"/><circle cx="716.47" cy="270.70" r="2.55"/><circle cx="724.71" cy="270.70" r="2.55"/><circle cx="727.07" cy="270.70" r="2.55"/><circle cx="729.34" cy="270.70" r="2.55"/><circle cx="731.74" cy="270.70" r="2.55"/><circle cx="733.94" cy="270.70" r="2.55"/><circle cx="736.17" cy="270.70" r="2.55"/><circle cx="738.99" cy="270.70" r="2.55"/><circle cx="742.24" cy="270.70" r="2.55"/><circle cx="637.06" cy="287.50" r="2.55"/><circle cx="639.24" cy="287.50" r="2.55"/><circle cx="641.72" cy="287.50" r="2.55"/><circle cx="643.06" cy="287.50" r="2.55"/><circle cx="645.05" cy="287.50" r="2.55"/><circle cx="646.41" cy="287.50" r="2.55"/><circle cx="647.83" cy="287.50" r="2.55"/><circle cx="649.00" cy="287.50" r="2.55"/><circle cx="650.57" cy="287.50" r="2.55"/><circle cx="652.15" cy="287.50" r="2.55"/><circle cx="654.29" cy="287.50" r="2.55"/><circle cx="656.55" cy="287.50" r="2.55"/><circle cx="659.28" cy="287.50" r="2.55"/><circle cx="661.37" cy="287.50" r="2.55"/><circle cx="664.24" cy="287.50" r="2.55"/><circle cx="666.15" cy="287.50" r="2.55"/><circle cx="668.74" cy="287.50" r="2.55"/><circle cx="670.96" cy="287.50" r="2.55"/><circle cx="673.31" cy="287.50" r="2.55"/><circle cx="674.99" cy="287.50" r="2.55"/><circle cx="677.94" cy="287.50" r="2.55"/><circle cx="680.57" cy="287.50" r="2.55"/><circle cx="682.02" cy="287.50" r="2.55"/><circle cx="684.20" cy="287.50" r="2.55"/><circle cx="688.24" cy="287.50" r="2.55"/><circle cx="694.18" cy="287.50" r="2.55"/><circle cx="701.53" cy="287.50" r="2.55"/><circle cx="702.79" cy="287.50" r="2.55"/><circle cx="704.53" cy="287.50" r="2.55"/><circle cx="707.11" cy="287.50" r="2.55"/><circle cx="708.35" cy="287.50" r="2.55"/><circle cx="710.93" cy="287.50" r="2.55"/><circle cx="713.19" cy="287.50" r="2.55"/><circle cx="715.18" cy="287.50" r="2.55"/></g> <g> <path d="M 628.11 299.85 L 628.11 205 " style="fill: none; stroke: #262626; stroke-width: 1.15; stroke-linejoin: miter; stroke-linecap: square"/> </g> <g> <path d="M 628.11 299.85 L 804.23 299.85 " style="fill: none; stroke: #262626; stroke-width: 1.25; stroke-linejoin: miter; stroke-linecap: square"/> </g> <g> <path d="M 636.47 288.57 L 636.47 296.37 L 639.19 294.93 L 641.91 293.50 L 644.62 292.06 L 647.34 290.63 L 650.05 289.20 L 652.77 287.77 L 655.48 286.34 L 658.20 284.91 L 660.91 283.48 L 663.63 282.06 L 666.34 280.63 L 669.06 279.21 L 671.77 277.79 L 674.49 276.37 L 677.20 274.96 L 679.92 273.54 L 682.63 272.13 L 685.35 270.73 L 688.07 269.33 L 690.78 267.93 L 693.50 266.54 L 696.21 265.15 L 698.93 263.77 L 701.64 262.39 L 704.36 261.02 L 707.07 259.66 L 709.79 258.31 L 712.50 256.97 L 715.22 255.63 L 717.93 254.31 L 720.65 252.99 L 723.36 251.68 L 726.08 250.38 L 728.79 249.09 L 731.51 247.81 L 734.22 246.53 L 736.94 245.26 L 739.66 244.00 L 742.37 242.74 L 745.09 241.49 L 747.80 240.24 L 750.52 238.99 L 753.23 237.75 L 755.95 236.51 L 758.66 235.27 L 761.38 234.04 L 764.09 232.81 L 766.81 231.58 L 769.52 230.35 L 772.24 229.13 L 774.95 227.90 L 777.67 226.68 L 780.38 225.46 L 783.10 224.24 L 785.82 223.02 L 788.53 221.80 L 791.25 220.58 L 793.96 219.36 L 796.68 218.14 L 796.68 210.35 L 796.68 210.35 L 793.96 211.78 L 791.25 213.22 L 788.53 214.65 L 785.82 216.08 L 783.10 217.52 L 780.38 218.95 L 777.67 220.38 L 774.95 221.81 L 772.24 223.23 L 769.52 224.66 L 766.81 226.08 L 764.09 227.50 L 761.38 228.92 L 758.66 230.34 L 755.95 231.76 L 753.23 233.17 L 750.52 234.58 L 747.80 235.99 L 745.09 237.39 L 742.37 238.79 L 739.66 240.18 L 736.94 241.57 L 734.22 242.95 L 731.51 244.32 L 728.79 245.69 L 726.08 247.05 L 723.36 248.40 L 720.65 249.75 L 717.93 251.08 L 715.22 252.41 L 712.50 253.72 L 709.79 255.03 L 707.07 256.33 L 704.36 257.62 L 701.64 258.91 L 698.93 260.18 L 696.21 261.45 L 693.50 262.72 L 690.78 263.98 L 688.07 265.23 L 685.35 266.48 L 682.63 267.72 L 679.92 268.97 L 677.20 270.21 L 674.49 271.44 L 671.77 272.68 L 669.06 273.91 L 666.34 275.14 L 663.63 276.36 L 660.91 277.59 L 658.20 278.81 L 655.48 280.04 L 652.77 281.26 L 650.05 282.48 L 647.34 283.70 L 644.62 284.92 L 641.91 286.14 L 639.19 287.35 L 636.47 288.57 z " clip-path="url(#p671a08f474)" style="fill: #d0000c; fill-opacity: 0.15"/> </g> <g> <path d="M 636.47 292.47 L 796.68 214.25 " clip-path="url(#p671a08f474)" style="fill: none; stroke-dasharray: 6.66,2.88; stroke-dashoffset: 0; stroke: #d0000c; stroke-width: 1.8"/> </g> </g> <g> <g> <path d="M 41.94 402.4 L 218.05 402.4 L 218.05 307.3 L 41.94 307.3 L 41.94 402.4 z " style="fill: none; opacity: 0"/> </g> <g> <g> <g> <g> <path d="M 0 0 L 0 4.2 " transform="translate(49.94 402.4)" style="fill: #262626; stroke: #262626; stroke-width: 1.1; stroke: #262626; stroke-width: 1.1"/> </g> </g> <g> <text style="font-size: 8.70px; font-family: 'DejaVu Serif', serif; text-anchor: middle; fill: #262626" x="49.94" y="417.35" transform="translate(49.94 417.35) scale(0.925 1) translate(-49.94 -417.35)">80</text> </g> </g> <g> <g> <g> <path d="M 0 0 L 0 4.2 " transform="translate(89.97 402.4)" style="fill: #262626; stroke: #262626; stroke-width: 1.1; stroke: #262626; stroke-width: 1.1"/> </g> </g> <g> <text style="font-size: 8.70px; font-family: 'DejaVu Serif', serif; text-anchor: middle; fill: #262626" x="89.97" y="417.35" transform="translate(89.97 417.35) scale(0.925 1) translate(-89.97 -417.35)">85</text> </g> </g> <g> <g> <g> <path d="M 0 0 L 0 4.2 " transform="translate(130 402.4)" style="fill: #262626; stroke: #262626; stroke-width: 1.1; stroke: #262626; stroke-width: 1.1"/> </g> </g> <g> <text style="font-size: 8.70px; font-family: 'DejaVu Serif', serif; text-anchor: middle; fill: #262626" x="130.00" y="417.35" transform="translate(130.00 417.35) scale(0.925 1) translate(-130.00 -417.35)">90</text> </g> </g> <g> <g> <g> <path d="M 0 0 L 0 4.2 " transform="translate(170.02 402.4)" style="fill: #262626; stroke: #262626; stroke-width: 1.1; stroke: #262626; stroke-width: 1.1"/> </g> </g> <g> <text style="font-size: 8.70px; font-family: 'DejaVu Serif', serif; text-anchor: middle; fill: #262626" x="170.02" y="417.35" transform="translate(170.02 417.35) scale(0.925 1) translate(-170.02 -417.35)">95</text> </g> </g> <g> <g> <g> <path d="M 0 0 L 0 4.2 " transform="translate(210.05 402.4)" style="fill: #262626; stroke: #262626; stroke-width: 1.1; stroke: #262626; stroke-width: 1.1"/> </g> </g> <g> <text style="font-size: 8.70px; font-family: 'DejaVu Serif', serif; text-anchor: middle; fill: #262626" x="210.05" y="417.35" transform="translate(210.05 417.35) scale(0.925 1) translate(-210.05 -417.35)">100</text> </g> </g> <g> <text style="font-size: 8.9px; font-family: 'DejaVu Serif', serif; text-anchor: middle; fill: #262626" x="130" y="428.78" transform="rotate(-0 130 428.78)">CGA</text> </g> </g> <g> <g> <g> <g> <path d="M 0 0 L -4.2 0 " transform="translate(41.94 398.8)" style="fill: #262626; stroke: #262626; stroke-width: 1.1; stroke: #262626; stroke-width: 1.1"/> </g> </g> <g> <text style="font-size: 8.70px; font-family: 'DejaVu Serif', serif; text-anchor: end; fill: #262626" x="34.74" y="402.62" transform="translate(34.74 402.62) scale(0.925 1) translate(-34.74 -402.62)">500</text> </g> </g> <g> <g> <g> <path d="M 0 0 L -4.2 0 " transform="translate(41.94 374.73)" style="fill: #262626; stroke: #262626; stroke-width: 1.1; stroke: #262626; stroke-width: 1.1"/> </g> </g> <g> <text style="font-size: 8.70px; font-family: 'DejaVu Serif', serif; text-anchor: end; fill: #262626" x="34.74" y="378.56" transform="translate(34.74 378.56) scale(0.925 1) translate(-34.74 -378.56)">1000</text> </g> </g> <g> <g> <g> <path d="M 0 0 L -4.2 0 " transform="translate(41.94 350.66)" style="fill: #262626; stroke: #262626; stroke-width: 1.1; stroke: #262626; stroke-width: 1.1"/> </g> </g> <g> <text style="font-size: 8.70px; font-family: 'DejaVu Serif', serif; text-anchor: end; fill: #262626" x="34.74" y="354.49" transform="translate(34.74 354.49) scale(0.925 1) translate(-34.74 -354.49)">1500</text> </g> </g> <g> <g> <g> <path d="M 0 0 L -4.2 0 " transform="translate(41.94 326.6)" style="fill: #262626; stroke: #262626; stroke-width: 1.1; stroke: #262626; stroke-width: 1.1"/> </g> </g> <g> <text style="font-size: 8.70px; font-family: 'DejaVu Serif', serif; text-anchor: end; fill: #262626" x="34.74" y="330.42" transform="translate(34.74 330.42) scale(0.925 1) translate(-34.74 -330.42)">2000</text> </g> </g> </g> <g style="fill: #4067a9; fill-opacity: 0.8; stroke: #4067a9; stroke-opacity: 0.8; stroke-width: 0.6; stroke-width: 0.60" transform="translate(0.24 0.35)"><circle cx="210.06" cy="397.08" r="2.55"/><circle cx="210.06" cy="395.89" r="2.55"/><circle cx="210.06" cy="394.54" r="2.55"/><circle cx="210.06" cy="393.61" r="2.55"/><circle cx="210.06" cy="392.47" r="2.55"/><circle cx="210.06" cy="390.92" r="2.55"/><circle cx="210.06" cy="389.38" r="2.55"/><circle cx="210.06" cy="388.63" r="2.55"/><circle cx="210.06" cy="387.79" r="2.55"/><circle cx="210.06" cy="387.11" r="2.55"/><circle cx="210.06" cy="386.03" r="2.55"/><circle cx="210.06" cy="385.37" r="2.55"/><circle cx="210.06" cy="384.28" r="2.55"/><circle cx="210.06" cy="382.99" r="2.55"/><circle cx="210.06" cy="382.08" r="2.55"/><circle cx="210.06" cy="380.76" r="2.55"/><circle cx="210.06" cy="379.53" r="2.55"/><circle cx="210.06" cy="378.49" r="2.55"/><circle cx="210.06" cy="372.86" r="2.55"/><circle cx="210.06" cy="371.66" r="2.55"/><circle cx="210.06" cy="370.77" r="2.55"/><circle cx="210.06" cy="369.72" r="2.55"/><circle cx="210.06" cy="368.80" r="2.55"/><circle cx="210.06" cy="367.47" r="2.55"/><circle cx="210.06" cy="366.39" r="2.55"/><circle cx="210.06" cy="365.60" r="2.55"/><circle cx="210.06" cy="364.42" r="2.55"/><circle cx="210.06" cy="362.99" r="2.55"/><circle cx="210.06" cy="362.05" r="2.55"/><circle cx="210.06" cy="361.20" r="2.55"/><circle cx="210.06" cy="360.18" r="2.55"/><circle cx="210.06" cy="358.59" r="2.55"/><circle cx="210.06" cy="356.97" r="2.55"/><circle cx="210.06" cy="355.65" r="2.55"/><circle cx="210.06" cy="354.10" r="2.55"/><circle cx="210.06" cy="352.61" r="2.55"/><circle cx="210.06" cy="351.60" r="2.55"/><circle cx="210.06" cy="350.79" r="2.55"/><circle cx="170.03" cy="389.87" r="2.55"/><circle cx="170.03" cy="388.58" r="2.55"/><circle cx="170.03" cy="387.38" r="2.55"/><circle cx="170.03" cy="386.38" r="2.55"/><circle cx="170.03" cy="385.53" r="2.55"/><circle cx="170.03" cy="384.48" r="2.55"/><circle cx="170.03" cy="383.38" r="2.55"/><circle cx="170.03" cy="382.48" r="2.55"/><circle cx="170.03" cy="381.55" r="2.55"/><circle cx="170.03" cy="380.46" r="2.55"/><circle cx="170.03" cy="378.95" r="2.55"/><circle cx="170.03" cy="377.72" r="2.55"/><circle cx="170.03" cy="376.80" r="2.55"/><circle cx="170.03" cy="375.89" r="2.55"/><circle cx="170.03" cy="374.80" r="2.55"/><circle cx="170.03" cy="373.97" r="2.55"/><circle cx="170.03" cy="373.13" r="2.55"/><circle cx="170.03" cy="371.98" r="2.55"/><circle cx="170.03" cy="371.27" r="2.55"/><circle cx="170.03" cy="370.14" r="2.55"/><circle cx="170.03" cy="369.15" r="2.55"/><circle cx="170.03" cy="367.80" r="2.55"/><circle cx="170.03" cy="366.41" r="2.55"/><circle cx="170.03" cy="365.07" r="2.55"/><circle cx="170.03" cy="363.74" r="2.55"/><circle cx="170.03" cy="362.73" r="2.55"/><circle cx="170.03" cy="361.42" r="2.55"/><circle cx="170.03" cy="360.45" r="2.55"/><circle cx="170.03" cy="359.23" r="2.55"/><circle cx="170.03" cy="358.27" r="2.55"/><circle cx="170.03" cy="357.43" r="2.55"/><circle cx="170.03" cy="352.82" r="2.55"/><circle cx="170.03" cy="352.13" r="2.55"/><circle cx="170.03" cy="351.25" r="2.55"/><circle cx="170.03" cy="349.63" r="2.55"/><circle cx="170.03" cy="348.77" r="2.55"/><circle cx="170.03" cy="347.44" r="2.55"/><circle cx="170.03" cy="346.14" r="2.55"/><circle cx="170.03" cy="344.78" r="2.55"/><circle cx="170.03" cy="343.66" r="2.55"/><circle cx="170.03" cy="342.43" r="2.55"/><circle cx="170.03" cy="341.73" r="2.55"/><circle cx="170.03" cy="341.03" r="2.55"/><circle cx="170.03" cy="340.20" r="2.55"/><circle cx="170.03" cy="339.47" r="2.55"/><circle cx="130.00" cy="384.62" r="2.55"/><circle cx="130.00" cy="383.89" r="2.55"/><circle cx="130.00" cy="383.14" r="2.55"/><circle cx="130.00" cy="381.94" r="2.55"/><circle cx="130.00" cy="381.12" r="2.55"/><circle cx="130.00" cy="379.52" r="2.55"/><circle cx="130.00" cy="378.20" r="2.55"/><circle cx="130.00" cy="377.02" r="2.55"/><circle cx="130.00" cy="375.67" r="2.55"/><circle cx="130.00" cy="374.77" r="2.55"/><circle cx="130.00" cy="373.20" r="2.55"/><circle cx="130.00" cy="371.71" r="2.55"/><circle cx="130.00" cy="370.34" r="2.55"/><circle cx="130.00" cy="369.22" r="2.55"/><circle cx="130.00" cy="367.73" r="2.55"/><circle cx="130.00" cy="366.35" r="2.55"/><circle cx="130.00" cy="365.04" r="2.55"/><circle cx="130.00" cy="363.48" r="2.55"/><circle cx="130.00" cy="362.21" r="2.55"/><circle cx="130.00" cy="361.21" r="2.55"/><circle cx="130.00" cy="360.01" r="2.55"/><circle cx="130.00" cy="359.19" r="2.55"/><circle cx="130.00" cy="358.36" r="2.55"/><circle cx="130.00" cy="356.99" r="2.55"/><circle cx="130.00" cy="355.56" r="2.55"/><circle cx="130.00" cy="354.71" r="2.55"/><circle cx="130.00" cy="348.33" r="2.55"/><circle cx="130.00" cy="346.83" r="2.55"/><circle cx="130.00" cy="345.65" r="2.55"/><circle cx="130.00" cy="344.93" r="2.55"/><circle cx="130.00" cy="343.80" r="2.55"/><circle cx="130.00" cy="342.23" r="2.55"/><circle cx="130.00" cy="340.79" r="2.55"/><circle cx="130.00" cy="339.67" r="2.55"/><circle cx="130.00" cy="338.58" r="2.55"/><circle cx="130.00" cy="337.73" r="2.55"/><circle cx="130.00" cy="336.92" r="2.55"/><circle cx="130.00" cy="336.22" r="2.55"/><circle cx="130.00" cy="334.68" r="2.55"/><circle cx="130.00" cy="333.40" r="2.55"/><circle cx="130.00" cy="332.62" r="2.55"/><circle cx="130.00" cy="331.57" r="2.55"/><circle cx="130.00" cy="330.90" r="2.55"/><circle cx="130.00" cy="330.05" r="2.55"/><circle cx="89.97" cy="380.89" r="2.55"/><circle cx="89.97" cy="379.52" r="2.55"/><circle cx="89.97" cy="378.22" r="2.55"/><circle cx="89.97" cy="377.11" r="2.55"/><circle cx="89.97" cy="376.20" r="2.55"/><circle cx="89.97" cy="374.91" r="2.55"/><circle cx="89.97" cy="373.30" r="2.55"/><circle cx="89.97" cy="372.23" r="2.55"/><circle cx="89.97" cy="371.53" r="2.55"/><circle cx="89.97" cy="370.85" r="2.55"/><circle cx="89.97" cy="369.51" r="2.55"/><circle cx="89.97" cy="365.87" r="2.55"/><circle cx="89.97" cy="361.80" r="2.55"/><circle cx="89.97" cy="360.19" r="2.55"/><circle cx="89.97" cy="359.01" r="2.55"/><circle cx="89.97" cy="357.52" r="2.55"/><circle cx="89.97" cy="356.72" r="2.55"/><circle cx="89.97" cy="355.83" r="2.55"/><circle cx="89.97" cy="354.50" r="2.55"/><circle cx="89.97" cy="352.95" r="2.55"/><circle cx="89.97" cy="351.98" r="2.55"/><circle cx="89.97" cy="351.28" r="2.55"/><circle cx="89.97" cy="349.77" r="2.55"/><circle cx="89.97" cy="348.85" r="2.55"/><circle cx="89.97" cy="346.81" r="2.55"/><circle cx="89.97" cy="340.61" r="2.55"/><circle cx="89.97" cy="339.82" r="2.55"/><circle cx="89.97" cy="338.49" r="2.55"/><circle cx="89.97" cy="337.00" r="2.55"/><circle cx="89.97" cy="335.63" r="2.55"/><circle cx="89.97" cy="334.63" r="2.55"/><circle cx="89.97" cy="333.26" r="2.55"/><circle cx="89.97" cy="332.49" r="2.55"/><circle cx="89.97" cy="331.55" r="2.55"/><circle cx="89.97" cy="330.49" r="2.55"/><circle cx="89.97" cy="328.97" r="2.55"/><circle cx="89.97" cy="328.18" r="2.55"/><circle cx="89.97" cy="326.66" r="2.55"/><circle cx="89.97" cy="324.93" r="2.55"/><circle cx="49.94" cy="370.14" r="2.55"/><circle cx="49.94" cy="366.98" r="2.55"/><circle cx="49.94" cy="362.55" r="2.55"/><circle cx="49.94" cy="360.93" r="2.55"/><circle cx="49.94" cy="359.93" r="2.55"/><circle cx="49.94" cy="359.09" r="2.55"/><circle cx="49.94" cy="358.22" r="2.55"/><circle cx="49.94" cy="356.75" r="2.55"/><circle cx="49.94" cy="355.28" r="2.55"/><circle cx="49.94" cy="350.22" r="2.55"/><circle cx="49.94" cy="348.88" r="2.55"/><circle cx="49.94" cy="347.76" r="2.55"/><circle cx="49.94" cy="346.84" r="2.55"/><circle cx="49.94" cy="345.36" r="2.55"/><circle cx="49.94" cy="343.84" r="2.55"/><circle cx="49.94" cy="343.12" r="2.55"/><circle cx="49.94" cy="342.27" r="2.55"/><circle cx="49.94" cy="340.80" r="2.55"/><circle cx="49.94" cy="339.30" r="2.55"/><circle cx="49.94" cy="338.35" r="2.55"/><circle cx="49.94" cy="337.44" r="2.55"/><circle cx="49.94" cy="336.37" r="2.55"/><circle cx="49.94" cy="335.20" r="2.55"/><circle cx="49.94" cy="334.47" r="2.55"/><circle cx="49.94" cy="332.99" r="2.55"/><circle cx="49.94" cy="331.81" r="2.55"/><circle cx="49.94" cy="330.39" r="2.55"/><circle cx="49.94" cy="329.53" r="2.55"/><circle cx="49.94" cy="327.92" r="2.55"/><circle cx="49.94" cy="326.52" r="2.55"/><circle cx="49.94" cy="325.54" r="2.55"/><circle cx="49.94" cy="323.95" r="2.55"/><circle cx="49.94" cy="322.60" r="2.55"/><circle cx="49.94" cy="321.12" r="2.55"/><circle cx="49.94" cy="320.44" r="2.55"/><circle cx="49.94" cy="319.76" r="2.55"/><circle cx="49.94" cy="318.37" r="2.55"/><circle cx="49.94" cy="317.44" r="2.55"/><circle cx="49.94" cy="316.28" r="2.55"/><circle cx="49.94" cy="315.49" r="2.55"/><circle cx="49.94" cy="313.87" r="2.55"/><circle cx="49.94" cy="312.72" r="2.55"/><circle cx="49.94" cy="311.78" r="2.55"/></g> <g> <path d="M 41.94 402.4 L 41.94 307.3 " style="fill: none; stroke: #262626; stroke-width: 1.15; stroke-linejoin: miter; stroke-linecap: square"/> </g> <g> <path d="M 41.94 402.4 L 218.05 402.4 " style="fill: none; stroke: #262626; stroke-width: 1.25; stroke-linejoin: miter; stroke-linecap: square"/> </g> <g> <path d="M 49.94 335.45 L 49.94 342.67 L 52.65 343.15 L 55.36 343.63 L 58.08 344.12 L 60.79 344.60 L 63.51 345.08 L 66.22 345.57 L 68.93 346.06 L 71.65 346.54 L 74.36 347.03 L 77.07 347.53 L 79.79 348.02 L 82.50 348.51 L 85.22 349.01 L 87.93 349.51 L 90.64 350.01 L 93.36 350.52 L 96.07 351.02 L 98.79 351.54 L 101.50 352.05 L 104.21 352.57 L 106.93 353.09 L 109.64 353.62 L 112.35 354.15 L 115.07 354.69 L 117.78 355.23 L 120.50 355.78 L 123.21 356.33 L 125.92 356.89 L 128.64 357.45 L 131.35 358.02 L 134.07 358.60 L 136.78 359.18 L 139.49 359.77 L 142.21 360.37 L 144.92 360.97 L 147.64 361.57 L 150.35 362.18 L 153.06 362.80 L 155.78 363.42 L 158.49 364.04 L 161.20 364.67 L 163.92 365.30 L 166.63 365.94 L 169.35 366.57 L 172.06 367.21 L 174.77 367.86 L 177.49 368.50 L 180.20 369.15 L 182.92 369.80 L 185.63 370.45 L 188.34 371.10 L 191.06 371.75 L 193.77 372.41 L 196.48 373.07 L 199.20 373.72 L 201.91 374.38 L 204.63 375.04 L 207.34 375.70 L 210.05 376.36 L 210.05 369.14 L 210.05 369.14 L 207.34 368.66 L 204.63 368.18 L 201.91 367.70 L 199.20 367.22 L 196.48 366.73 L 193.77 366.25 L 191.06 365.76 L 188.34 365.27 L 185.63 364.78 L 182.92 364.29 L 180.20 363.80 L 177.49 363.30 L 174.77 362.81 L 172.06 362.31 L 169.35 361.80 L 166.63 361.30 L 163.92 360.79 L 161.20 360.28 L 158.49 359.77 L 155.78 359.25 L 153.06 358.73 L 150.35 358.20 L 147.64 357.67 L 144.92 357.13 L 142.21 356.59 L 139.49 356.04 L 136.78 355.49 L 134.07 354.93 L 131.35 354.36 L 128.64 353.79 L 125.92 353.22 L 123.21 352.63 L 120.50 352.04 L 117.78 351.45 L 115.07 350.85 L 112.35 350.24 L 109.64 349.63 L 106.93 349.02 L 104.21 348.40 L 101.50 347.77 L 98.79 347.15 L 96.07 346.51 L 93.36 345.88 L 90.64 345.24 L 87.93 344.60 L 85.22 343.96 L 82.50 343.32 L 79.79 342.67 L 77.07 342.02 L 74.36 341.37 L 71.65 340.72 L 68.93 340.06 L 66.22 339.41 L 63.51 338.75 L 60.79 338.09 L 58.08 337.43 L 55.36 336.77 L 52.65 336.11 L 49.94 335.45 z " clip-path="url(#p62892ebee8)" style="fill: #d0000c; fill-opacity: 0.15"/> </g> <g> <path d="M 49.94 339.06 L 210.05 372.75 " clip-path="url(#p62892ebee8)" style="fill: none; stroke-dasharray: 6.66,2.88; stroke-dashoffset: 0; stroke: #d0000c; stroke-width: 1.8"/> </g> </g> <g> <g> <path d="M 237.35 402.4 L 413.82 402.4 L 413.82 307.3 L 237.35 307.3 L 237.35 402.4 z " style="fill: none; opacity: 0"/> </g> <g> <g> <g> <g> <path d="M 0 0 L 0 4.2 " transform="translate(245.37 402.4)" style="fill: #262626; stroke: #262626; stroke-width: 1.1; stroke: #262626; stroke-width: 1.1"/> </g> </g> <g> <text style="font-size: 8.70px; font-family: 'DejaVu Serif', serif; text-anchor: middle; fill: #262626" x="245.37" y="417.35" transform="translate(245.37 417.35) scale(0.925 1) translate(-245.37 -417.35)">0</text> </g> </g> <g> <g> <g> <path d="M 0 0 L 0 4.2 " transform="translate(285.47 402.4)" style="fill: #262626; stroke: #262626; stroke-width: 1.1; stroke: #262626; stroke-width: 1.1"/> </g> </g> <g> <text style="font-size: 8.70px; font-family: 'DejaVu Serif', serif; text-anchor: middle; fill: #262626" x="285.47" y="417.35" transform="translate(285.47 417.35) scale(0.925 1) translate(-285.47 -417.35)">5</text> </g> </g> <g> <g> <g> <path d="M 0 0 L 0 4.2 " transform="translate(325.57 402.4)" style="fill: #262626; stroke: #262626; stroke-width: 1.1; stroke: #262626; stroke-width: 1.1"/> </g> </g> <g> <text style="font-size: 8.70px; font-family: 'DejaVu Serif', serif; text-anchor: middle; fill: #262626" x="325.57" y="417.35" transform="translate(325.57 417.35) scale(0.925 1) translate(-325.57 -417.35)">10</text> </g> </g> <g> <g> <g> <path d="M 0 0 L 0 4.2 " transform="translate(365.66 402.4)" style="fill: #262626; stroke: #262626; stroke-width: 1.1; stroke: #262626; stroke-width: 1.1"/> </g> </g> <g> <text style="font-size: 8.70px; font-family: 'DejaVu Serif', serif; text-anchor: middle; fill: #262626" x="365.66" y="417.35" transform="translate(365.66 417.35) scale(0.925 1) translate(-365.66 -417.35)">15</text> </g> </g> <g> <g> <g> <path d="M 0 0 L 0 4.2 " transform="translate(405.76 402.4)" style="fill: #262626; stroke: #262626; stroke-width: 1.1; stroke: #262626; stroke-width: 1.1"/> </g> </g> <g> <text style="font-size: 8.70px; font-family: 'DejaVu Serif', serif; text-anchor: middle; fill: #262626" x="405.76" y="417.35" transform="translate(405.76 417.35) scale(0.925 1) translate(-405.76 -417.35)">20</text> </g> </g> <g> <text style="font-size: 8.9px; font-family: 'DejaVu Serif', serif; text-anchor: middle; fill: #262626" x="325.58" y="428.78" transform="rotate(-0 325.58 428.78)">SF</text> </g> </g> <g> <g> <g> <g> <path d="M 0 0 L -4.2 0 " transform="translate(237.35 398.8)" style="fill: #262626; stroke: #262626; stroke-width: 1.1; stroke: #262626; stroke-width: 1.1"/> </g> </g> </g> <g> <g> <g> <path d="M 0 0 L -4.2 0 " transform="translate(237.35 374.73)" style="fill: #262626; stroke: #262626; stroke-width: 1.1; stroke: #262626; stroke-width: 1.1"/> </g> </g> </g> <g> <g> <g> <path d="M 0 0 L -4.2 0 " transform="translate(237.35 350.66)" style="fill: #262626; stroke: #262626; stroke-width: 1.1; stroke: #262626; stroke-width: 1.1"/> </g> </g> </g> <g> <g> <g> <path d="M 0 0 L -4.2 0 " transform="translate(237.35 326.6)" style="fill: #262626; stroke: #262626; stroke-width: 1.1; stroke: #262626; stroke-width: 1.1"/> </g> </g> </g> </g> <g style="fill: #4067a9; fill-opacity: 0.8; stroke: #4067a9; stroke-opacity: 0.8; stroke-width: 0.6; stroke-width: 0.60" transform="translate(0.24 0.35)"><circle cx="245.38" cy="397.08" r="2.55"/><circle cx="245.38" cy="395.89" r="2.55"/><circle cx="245.38" cy="394.54" r="2.55"/><circle cx="245.38" cy="393.61" r="2.55"/><circle cx="245.38" cy="392.47" r="2.55"/><circle cx="245.38" cy="390.92" r="2.55"/><circle cx="245.38" cy="389.38" r="2.55"/><circle cx="245.38" cy="388.63" r="2.55"/><circle cx="245.38" cy="387.79" r="2.55"/><circle cx="245.38" cy="387.11" r="2.55"/><circle cx="245.38" cy="386.03" r="2.55"/><circle cx="245.38" cy="385.37" r="2.55"/><circle cx="245.38" cy="384.28" r="2.55"/><circle cx="245.38" cy="382.99" r="2.55"/><circle cx="245.38" cy="382.08" r="2.55"/><circle cx="245.38" cy="380.76" r="2.55"/><circle cx="245.38" cy="379.53" r="2.55"/><circle cx="245.38" cy="378.49" r="2.55"/><circle cx="245.38" cy="372.86" r="2.55"/><circle cx="245.38" cy="371.66" r="2.55"/><circle cx="245.38" cy="370.77" r="2.55"/><circle cx="245.38" cy="369.72" r="2.55"/><circle cx="245.38" cy="368.80" r="2.55"/><circle cx="245.38" cy="367.47" r="2.55"/><circle cx="245.38" cy="366.39" r="2.55"/><circle cx="245.38" cy="365.60" r="2.55"/><circle cx="245.38" cy="364.42" r="2.55"/><circle cx="245.38" cy="362.99" r="2.55"/><circle cx="245.38" cy="362.05" r="2.55"/><circle cx="245.38" cy="361.20" r="2.55"/><circle cx="245.38" cy="360.18" r="2.55"/><circle cx="245.38" cy="358.59" r="2.55"/><circle cx="245.38" cy="356.97" r="2.55"/><circle cx="245.38" cy="355.65" r="2.55"/><circle cx="245.38" cy="354.10" r="2.55"/><circle cx="245.38" cy="352.61" r="2.55"/><circle cx="245.38" cy="351.60" r="2.55"/><circle cx="245.38" cy="350.79" r="2.55"/><circle cx="285.47" cy="389.87" r="2.55"/><circle cx="285.47" cy="388.58" r="2.55"/><circle cx="285.47" cy="387.38" r="2.55"/><circle cx="285.47" cy="386.38" r="2.55"/><circle cx="285.47" cy="385.53" r="2.55"/><circle cx="285.47" cy="384.48" r="2.55"/><circle cx="285.47" cy="383.38" r="2.55"/><circle cx="285.47" cy="382.48" r="2.55"/><circle cx="285.47" cy="381.55" r="2.55"/><circle cx="285.47" cy="380.46" r="2.55"/><circle cx="285.47" cy="378.95" r="2.55"/><circle cx="285.47" cy="377.72" r="2.55"/><circle cx="285.47" cy="376.80" r="2.55"/><circle cx="285.47" cy="375.89" r="2.55"/><circle cx="285.47" cy="374.80" r="2.55"/><circle cx="285.47" cy="373.97" r="2.55"/><circle cx="285.47" cy="373.13" r="2.55"/><circle cx="285.47" cy="371.98" r="2.55"/><circle cx="285.47" cy="371.27" r="2.55"/><circle cx="285.47" cy="370.14" r="2.55"/><circle cx="285.47" cy="369.15" r="2.55"/><circle cx="285.47" cy="367.80" r="2.55"/><circle cx="285.47" cy="366.41" r="2.55"/><circle cx="285.47" cy="365.07" r="2.55"/><circle cx="285.47" cy="363.74" r="2.55"/><circle cx="285.47" cy="362.73" r="2.55"/><circle cx="285.47" cy="361.42" r="2.55"/><circle cx="285.47" cy="360.45" r="2.55"/><circle cx="285.47" cy="359.23" r="2.55"/><circle cx="285.47" cy="358.27" r="2.55"/><circle cx="285.47" cy="357.43" r="2.55"/><circle cx="285.47" cy="352.82" r="2.55"/><circle cx="285.47" cy="352.13" r="2.55"/><circle cx="285.47" cy="351.25" r="2.55"/><circle cx="285.47" cy="349.63" r="2.55"/><circle cx="285.47" cy="348.77" r="2.55"/><circle cx="285.47" cy="347.44" r="2.55"/><circle cx="285.47" cy="346.14" r="2.55"/><circle cx="285.47" cy="344.78" r="2.55"/><circle cx="285.47" cy="343.66" r="2.55"/><circle cx="285.47" cy="342.43" r="2.55"/><circle cx="285.47" cy="341.73" r="2.55"/><circle cx="285.47" cy="341.03" r="2.55"/><circle cx="285.47" cy="340.20" r="2.55"/><circle cx="285.47" cy="339.47" r="2.55"/><circle cx="325.57" cy="384.62" r="2.55"/><circle cx="325.57" cy="383.89" r="2.55"/><circle cx="325.57" cy="383.14" r="2.55"/><circle cx="325.57" cy="381.94" r="2.55"/><circle cx="325.57" cy="381.12" r="2.55"/><circle cx="325.57" cy="379.52" r="2.55"/><circle cx="325.57" cy="378.20" r="2.55"/><circle cx="325.57" cy="377.02" r="2.55"/><circle cx="325.57" cy="375.67" r="2.55"/><circle cx="325.57" cy="374.77" r="2.55"/><circle cx="325.57" cy="373.20" r="2.55"/><circle cx="325.57" cy="371.71" r="2.55"/><circle cx="325.57" cy="370.34" r="2.55"/><circle cx="325.57" cy="369.22" r="2.55"/><circle cx="325.57" cy="367.73" r="2.55"/><circle cx="325.57" cy="366.35" r="2.55"/><circle cx="325.57" cy="365.04" r="2.55"/><circle cx="325.57" cy="363.48" r="2.55"/><circle cx="325.57" cy="362.21" r="2.55"/><circle cx="325.57" cy="361.21" r="2.55"/><circle cx="325.57" cy="360.01" r="2.55"/><circle cx="325.57" cy="359.19" r="2.55"/><circle cx="325.57" cy="358.36" r="2.55"/><circle cx="325.57" cy="356.99" r="2.55"/><circle cx="325.57" cy="355.56" r="2.55"/><circle cx="325.57" cy="354.71" r="2.55"/><circle cx="325.57" cy="348.33" r="2.55"/><circle cx="325.57" cy="346.83" r="2.55"/><circle cx="325.57" cy="345.65" r="2.55"/><circle cx="325.57" cy="344.93" r="2.55"/><circle cx="325.57" cy="343.80" r="2.55"/><circle cx="325.57" cy="342.23" r="2.55"/><circle cx="325.57" cy="340.79" r="2.55"/><circle cx="325.57" cy="339.67" r="2.55"/><circle cx="325.57" cy="338.58" r="2.55"/><circle cx="325.57" cy="337.73" r="2.55"/><circle cx="325.57" cy="336.92" r="2.55"/><circle cx="325.57" cy="336.22" r="2.55"/><circle cx="325.57" cy="334.68" r="2.55"/><circle cx="325.57" cy="333.40" r="2.55"/><circle cx="325.57" cy="332.62" r="2.55"/><circle cx="325.57" cy="331.57" r="2.55"/><circle cx="325.57" cy="330.90" r="2.55"/><circle cx="325.57" cy="330.05" r="2.55"/><circle cx="365.67" cy="380.89" r="2.55"/><circle cx="365.67" cy="379.52" r="2.55"/><circle cx="365.67" cy="378.22" r="2.55"/><circle cx="365.67" cy="377.11" r="2.55"/><circle cx="365.67" cy="376.20" r="2.55"/><circle cx="365.67" cy="374.91" r="2.55"/><circle cx="365.67" cy="373.30" r="2.55"/><circle cx="365.67" cy="372.23" r="2.55"/><circle cx="365.67" cy="371.53" r="2.55"/><circle cx="365.67" cy="370.85" r="2.55"/><circle cx="365.67" cy="369.51" r="2.55"/><circle cx="365.67" cy="365.87" r="2.55"/><circle cx="365.67" cy="361.80" r="2.55"/><circle cx="365.67" cy="360.19" r="2.55"/><circle cx="365.67" cy="359.01" r="2.55"/><circle cx="365.67" cy="357.52" r="2.55"/><circle cx="365.67" cy="356.72" r="2.55"/><circle cx="365.67" cy="355.83" r="2.55"/><circle cx="365.67" cy="354.50" r="2.55"/><circle cx="365.67" cy="352.95" r="2.55"/><circle cx="365.67" cy="351.98" r="2.55"/><circle cx="365.67" cy="351.28" r="2.55"/><circle cx="365.67" cy="349.77" r="2.55"/><circle cx="365.67" cy="348.85" r="2.55"/><circle cx="365.67" cy="346.81" r="2.55"/><circle cx="365.67" cy="340.61" r="2.55"/><circle cx="365.67" cy="339.82" r="2.55"/><circle cx="365.67" cy="338.49" r="2.55"/><circle cx="365.67" cy="337.00" r="2.55"/><circle cx="365.67" cy="335.63" r="2.55"/><circle cx="365.67" cy="334.63" r="2.55"/><circle cx="365.67" cy="333.26" r="2.55"/><circle cx="365.67" cy="332.49" r="2.55"/><circle cx="365.67" cy="331.55" r="2.55"/><circle cx="365.67" cy="330.49" r="2.55"/><circle cx="365.67" cy="328.97" r="2.55"/><circle cx="365.67" cy="328.18" r="2.55"/><circle cx="365.67" cy="326.66" r="2.55"/><circle cx="365.67" cy="324.93" r="2.55"/><circle cx="405.76" cy="370.14" r="2.55"/><circle cx="405.76" cy="366.98" r="2.55"/><circle cx="405.76" cy="362.55" r="2.55"/><circle cx="405.76" cy="360.93" r="2.55"/><circle cx="405.76" cy="359.93" r="2.55"/><circle cx="405.76" cy="359.09" r="2.55"/><circle cx="405.76" cy="358.22" r="2.55"/><circle cx="405.76" cy="356.75" r="2.55"/><circle cx="405.76" cy="355.28" r="2.55"/><circle cx="405.76" cy="350.22" r="2.55"/><circle cx="405.76" cy="348.88" r="2.55"/><circle cx="405.76" cy="347.76" r="2.55"/><circle cx="405.76" cy="346.84" r="2.55"/><circle cx="405.76" cy="345.36" r="2.55"/><circle cx="405.76" cy="343.84" r="2.55"/><circle cx="405.76" cy="343.12" r="2.55"/><circle cx="405.76" cy="342.27" r="2.55"/><circle cx="405.76" cy="340.80" r="2.55"/><circle cx="405.76" cy="339.30" r="2.55"/><circle cx="405.76" cy="338.35" r="2.55"/><circle cx="405.76" cy="337.44" r="2.55"/><circle cx="405.76" cy="336.37" r="2.55"/><circle cx="405.76" cy="335.20" r="2.55"/><circle cx="405.76" cy="334.47" r="2.55"/><circle cx="405.76" cy="332.99" r="2.55"/><circle cx="405.76" cy="331.81" r="2.55"/><circle cx="405.76" cy="330.39" r="2.55"/><circle cx="405.76" cy="329.53" r="2.55"/><circle cx="405.76" cy="327.92" r="2.55"/><circle cx="405.76" cy="326.52" r="2.55"/><circle cx="405.76" cy="325.54" r="2.55"/><circle cx="405.76" cy="323.95" r="2.55"/><circle cx="405.76" cy="322.60" r="2.55"/><circle cx="405.76" cy="321.12" r="2.55"/><circle cx="405.76" cy="320.44" r="2.55"/><circle cx="405.76" cy="319.76" r="2.55"/><circle cx="405.76" cy="318.37" r="2.55"/><circle cx="405.76" cy="317.44" r="2.55"/><circle cx="405.76" cy="316.28" r="2.55"/><circle cx="405.76" cy="315.49" r="2.55"/><circle cx="405.76" cy="313.87" r="2.55"/><circle cx="405.76" cy="312.72" r="2.55"/><circle cx="405.76" cy="311.78" r="2.55"/></g> <g> <path d="M 237.35 402.4 L 237.35 307.3 " style="fill: none; stroke: #262626; stroke-width: 1.15; stroke-linejoin: miter; stroke-linecap: square"/> </g> <g> <path d="M 237.35 402.4 L 413.82 402.4 " style="fill: none; stroke: #262626; stroke-width: 1.25; stroke-linejoin: miter; stroke-linecap: square"/> </g> <g> <path d="M 245.37 369.14 L 245.37 376.36 L 248.09 375.70 L 250.81 375.04 L 253.53 374.38 L 256.25 373.72 L 258.96 373.07 L 261.68 372.41 L 264.40 371.75 L 267.12 371.10 L 269.84 370.45 L 272.56 369.80 L 275.27 369.15 L 277.99 368.50 L 280.71 367.86 L 283.43 367.21 L 286.15 366.57 L 288.87 365.94 L 291.59 365.30 L 294.30 364.67 L 297.02 364.04 L 299.74 363.42 L 302.46 362.80 L 305.18 362.18 L 307.90 361.57 L 310.61 360.97 L 313.33 360.37 L 316.05 359.77 L 318.77 359.18 L 321.49 358.60 L 324.21 358.02 L 326.92 357.45 L 329.64 356.89 L 332.36 356.33 L 335.08 355.78 L 337.80 355.23 L 340.52 354.69 L 343.24 354.15 L 345.95 353.62 L 348.67 353.09 L 351.39 352.57 L 354.11 352.05 L 356.83 351.54 L 359.55 351.02 L 362.26 350.52 L 364.98 350.01 L 367.70 349.51 L 370.42 349.01 L 373.14 348.51 L 375.86 348.02 L 378.58 347.53 L 381.29 347.03 L 384.01 346.54 L 386.73 346.06 L 389.45 345.57 L 392.17 345.08 L 394.89 344.60 L 397.60 344.12 L 400.32 343.63 L 403.04 343.15 L 405.76 342.67 L 405.76 335.45 L 405.76 335.45 L 403.04 336.11 L 400.32 336.77 L 397.60 337.43 L 394.89 338.09 L 392.17 338.75 L 389.45 339.41 L 386.73 340.06 L 384.01 340.72 L 381.29 341.37 L 378.58 342.02 L 375.86 342.67 L 373.14 343.32 L 370.42 343.96 L 367.70 344.60 L 364.98 345.24 L 362.26 345.88 L 359.55 346.51 L 356.83 347.15 L 354.11 347.77 L 351.39 348.40 L 348.67 349.02 L 345.95 349.63 L 343.24 350.24 L 340.52 350.85 L 337.80 351.45 L 335.08 352.04 L 332.36 352.63 L 329.64 353.22 L 326.92 353.79 L 324.21 354.36 L 321.49 354.93 L 318.77 355.49 L 316.05 356.04 L 313.33 356.59 L 310.61 357.13 L 307.90 357.67 L 305.18 358.20 L 302.46 358.73 L 299.74 359.25 L 297.02 359.77 L 294.30 360.28 L 291.59 360.79 L 288.87 361.30 L 286.15 361.80 L 283.43 362.31 L 280.71 362.81 L 277.99 363.30 L 275.27 363.80 L 272.56 364.29 L 269.84 364.78 L 267.12 365.27 L 264.40 365.76 L 261.68 366.25 L 258.96 366.73 L 256.25 367.22 L 253.53 367.70 L 250.81 368.18 L 248.09 368.66 L 245.37 369.14 z " clip-path="url(#p938a10688b)" style="fill: #d0000c; fill-opacity: 0.15"/> </g> <g> <path d="M 245.37 372.75 L 405.76 339.06 " clip-path="url(#p938a10688b)" style="fill: none; stroke-dasharray: 6.66,2.88; stroke-dashoffset: 0; stroke: #d0000c; stroke-width: 1.8"/> </g> </g> <g> <g> <path d="M 433.11 402.4 L 609.47 402.4 L 609.47 307.3 L 433.11 307.3 L 433.11 402.4 z " style="fill: none; opacity: 0"/> </g> <g> <g> <g> <g> <path d="M 0 0 L 0 4.2 " transform="translate(441.11 402.4)" style="fill: #262626; stroke: #262626; stroke-width: 1.1; stroke: #262626; stroke-width: 1.1"/> </g> </g> <g> <text style="font-size: 8.70px; font-family: 'DejaVu Serif', serif; text-anchor: middle; fill: #262626" x="441.11" y="417.35" transform="translate(441.11 417.35) scale(0.925 1) translate(-441.11 -417.35)">0.0</text> </g> </g> <g> <g> <g> <path d="M 0 0 L 0 4.2 " transform="translate(473.17 402.4)" style="fill: #262626; stroke: #262626; stroke-width: 1.1; stroke: #262626; stroke-width: 1.1"/> </g> </g> <g> <text style="font-size: 8.70px; font-family: 'DejaVu Serif', serif; text-anchor: middle; fill: #262626" x="473.17" y="417.35" transform="translate(473.17 417.35) scale(0.925 1) translate(-473.17 -417.35)">0.2</text> </g> </g> <g> <g> <g> <path d="M 0 0 L 0 4.2 " transform="translate(505.23 402.4)" style="fill: #262626; stroke: #262626; stroke-width: 1.1; stroke: #262626; stroke-width: 1.1"/> </g> </g> <g> <text style="font-size: 8.70px; font-family: 'DejaVu Serif', serif; text-anchor: middle; fill: #262626" x="505.23" y="417.35" transform="translate(505.23 417.35) scale(0.925 1) translate(-505.23 -417.35)">0.4</text> </g> </g> <g> <g> <g> <path d="M 0 0 L 0 4.2 " transform="translate(537.29 402.4)" style="fill: #262626; stroke: #262626; stroke-width: 1.1; stroke: #262626; stroke-width: 1.1"/> </g> </g> <g> <text style="font-size: 8.70px; font-family: 'DejaVu Serif', serif; text-anchor: middle; fill: #262626" x="537.29" y="417.35" transform="translate(537.29 417.35) scale(0.925 1) translate(-537.29 -417.35)">0.6</text> </g> </g> <g> <g> <g> <path d="M 0 0 L 0 4.2 " transform="translate(569.35 402.4)" style="fill: #262626; stroke: #262626; stroke-width: 1.1; stroke: #262626; stroke-width: 1.1"/> </g> </g> <g> <text style="font-size: 8.70px; font-family: 'DejaVu Serif', serif; text-anchor: middle; fill: #262626" x="569.35" y="417.35" transform="translate(569.35 417.35) scale(0.925 1) translate(-569.35 -417.35)">0.8</text> </g> </g> <g> <g> <g> <path d="M 0 0 L 0 4.2 " transform="translate(601.41 402.4)" style="fill: #262626; stroke: #262626; stroke-width: 1.1; stroke: #262626; stroke-width: 1.1"/> </g> </g> <g> <text style="font-size: 8.70px; font-family: 'DejaVu Serif', serif; text-anchor: middle; fill: #262626" x="601.41" y="417.35" transform="translate(601.41 417.35) scale(0.925 1) translate(-601.41 -417.35)">1.0</text> </g> </g> <g> <text style="font-size: 8.9px; font-family: 'DejaVu Serif', serif; text-anchor: middle; fill: #262626" x="521.29" y="428.78" transform="rotate(-0 521.29 428.78)">BF</text> </g> </g> <g> <g> <g> <g> <path d="M 0 0 L -4.2 0 " transform="translate(433.11 398.8)" style="fill: #262626; stroke: #262626; stroke-width: 1.1; stroke: #262626; stroke-width: 1.1"/> </g> </g> </g> <g> <g> <g> <path d="M 0 0 L -4.2 0 " transform="translate(433.11 374.73)" style="fill: #262626; stroke: #262626; stroke-width: 1.1; stroke: #262626; stroke-width: 1.1"/> </g> </g> </g> <g> <g> <g> <path d="M 0 0 L -4.2 0 " transform="translate(433.11 350.66)" style="fill: #262626; stroke: #262626; stroke-width: 1.1; stroke: #262626; stroke-width: 1.1"/> </g> </g> </g> <g> <g> <g> <path d="M 0 0 L -4.2 0 " transform="translate(433.11 326.6)" style="fill: #262626; stroke: #262626; stroke-width: 1.1; stroke: #262626; stroke-width: 1.1"/> </g> </g> </g> </g> <g style="fill: #4067a9; fill-opacity: 0.8; stroke: #4067a9; stroke-opacity: 0.8; stroke-width: 0.6; stroke-width: 0.60" transform="translate(0.24 0.35)"><circle cx="601.41" cy="355.85" r="2.55"/><circle cx="601.41" cy="355.15" r="2.55"/><circle cx="601.41" cy="354.03" r="2.55"/><circle cx="601.41" cy="353.34" r="2.55"/><circle cx="601.41" cy="351.81" r="2.55"/><circle cx="601.41" cy="350.79" r="2.55"/><circle cx="601.41" cy="346.94" r="2.55"/><circle cx="601.41" cy="342.83" r="2.55"/><circle cx="601.41" cy="342.13" r="2.55"/><circle cx="601.41" cy="341.43" r="2.55"/><circle cx="601.41" cy="340.25" r="2.55"/><circle cx="601.41" cy="339.54" r="2.55"/><circle cx="601.41" cy="338.08" r="2.55"/><circle cx="601.41" cy="333.66" r="2.55"/><circle cx="601.41" cy="332.58" r="2.55"/><circle cx="601.41" cy="331.45" r="2.55"/><circle cx="601.41" cy="330.22" r="2.55"/><circle cx="601.41" cy="328.96" r="2.55"/><circle cx="601.41" cy="327.95" r="2.55"/><circle cx="601.41" cy="326.69" r="2.55"/><circle cx="601.41" cy="325.91" r="2.55"/><circle cx="601.41" cy="325.00" r="2.55"/><circle cx="601.41" cy="323.56" r="2.55"/><circle cx="601.41" cy="322.77" r="2.55"/><circle cx="601.41" cy="321.92" r="2.55"/><circle cx="601.41" cy="321.04" r="2.55"/><circle cx="601.41" cy="319.93" r="2.55"/><circle cx="601.41" cy="319.30" r="2.55"/><circle cx="601.41" cy="318.64" r="2.55"/><circle cx="601.41" cy="317.54" r="2.55"/><circle cx="601.41" cy="316.75" r="2.55"/><circle cx="601.41" cy="315.43" r="2.55"/><circle cx="601.41" cy="313.99" r="2.55"/><circle cx="601.41" cy="312.77" r="2.55"/><circle cx="601.41" cy="311.78" r="2.55"/><circle cx="561.34" cy="363.57" r="2.55"/><circle cx="561.34" cy="362.54" r="2.55"/><circle cx="561.34" cy="361.87" r="2.55"/><circle cx="561.34" cy="360.79" r="2.55"/><circle cx="561.34" cy="359.78" r="2.55"/><circle cx="561.34" cy="358.82" r="2.55"/><circle cx="561.34" cy="352.82" r="2.55"/><circle cx="561.34" cy="352.05" r="2.55"/><circle cx="561.34" cy="351.19" r="2.55"/><circle cx="561.34" cy="349.73" r="2.55"/><circle cx="561.34" cy="348.84" r="2.55"/><circle cx="561.34" cy="347.79" r="2.55"/><circle cx="561.34" cy="346.21" r="2.55"/><circle cx="561.34" cy="345.30" r="2.55"/><circle cx="561.34" cy="344.52" r="2.55"/><circle cx="561.34" cy="343.18" r="2.55"/><circle cx="561.34" cy="341.97" r="2.55"/><circle cx="561.34" cy="340.72" r="2.55"/><circle cx="561.34" cy="340.05" r="2.55"/><circle cx="561.34" cy="339.00" r="2.55"/><circle cx="561.34" cy="338.36" r="2.55"/><circle cx="561.34" cy="337.49" r="2.55"/><circle cx="561.34" cy="336.14" r="2.55"/><circle cx="561.34" cy="335.45" r="2.55"/><circle cx="561.34" cy="334.52" r="2.55"/><circle cx="561.34" cy="333.59" r="2.55"/><circle cx="561.34" cy="329.74" r="2.55"/><circle cx="561.34" cy="325.94" r="2.55"/><circle cx="561.34" cy="321.83" r="2.55"/><circle cx="561.34" cy="318.04" r="2.55"/><circle cx="561.34" cy="314.72" r="2.55"/><circle cx="521.26" cy="373.11" r="2.55"/><circle cx="521.26" cy="371.49" r="2.55"/><circle cx="521.26" cy="370.37" r="2.55"/><circle cx="521.26" cy="368.99" r="2.55"/><circle cx="521.26" cy="367.72" r="2.55"/><circle cx="521.26" cy="366.62" r="2.55"/><circle cx="521.26" cy="365.11" r="2.55"/><circle cx="521.26" cy="364.31" r="2.55"/><circle cx="521.26" cy="362.84" r="2.55"/><circle cx="521.26" cy="362.17" r="2.55"/><circle cx="521.26" cy="360.65" r="2.55"/><circle cx="521.26" cy="359.33" r="2.55"/><circle cx="521.26" cy="358.25" r="2.55"/><circle cx="521.26" cy="356.94" r="2.55"/><circle cx="521.26" cy="355.84" r="2.55"/><circle cx="521.26" cy="354.41" r="2.55"/><circle cx="521.26" cy="353.67" r="2.55"/><circle cx="521.26" cy="352.53" r="2.55"/><circle cx="521.26" cy="351.01" r="2.55"/><circle cx="521.26" cy="349.43" r="2.55"/><circle cx="521.26" cy="348.58" r="2.55"/><circle cx="521.26" cy="347.70" r="2.55"/><circle cx="521.26" cy="346.68" r="2.55"/><circle cx="521.26" cy="339.35" r="2.55"/><circle cx="521.26" cy="338.37" r="2.55"/><circle cx="521.26" cy="337.68" r="2.55"/><circle cx="521.26" cy="336.33" r="2.55"/><circle cx="521.26" cy="335.27" r="2.55"/><circle cx="521.26" cy="333.90" r="2.55"/><circle cx="521.26" cy="332.78" r="2.55"/><circle cx="521.26" cy="331.64" r="2.55"/><circle cx="521.26" cy="330.75" r="2.55"/><circle cx="481.19" cy="385.76" r="2.55"/><circle cx="481.19" cy="384.84" r="2.55"/><circle cx="481.19" cy="383.29" r="2.55"/><circle cx="481.19" cy="381.98" r="2.55"/><circle cx="481.19" cy="380.54" r="2.55"/><circle cx="481.19" cy="379.00" r="2.55"/><circle cx="481.19" cy="378.12" r="2.55"/><circle cx="481.19" cy="376.55" r="2.55"/><circle cx="481.19" cy="375.04" r="2.55"/><circle cx="481.19" cy="373.90" r="2.55"/><circle cx="481.19" cy="372.69" r="2.55"/><circle cx="481.19" cy="371.94" r="2.55"/><circle cx="481.19" cy="370.54" r="2.55"/><circle cx="481.19" cy="369.73" r="2.55"/><circle cx="481.19" cy="368.56" r="2.55"/><circle cx="481.19" cy="367.81" r="2.55"/><circle cx="481.19" cy="367.10" r="2.55"/><circle cx="481.19" cy="365.85" r="2.55"/><circle cx="481.19" cy="364.73" r="2.55"/><circle cx="481.19" cy="363.41" r="2.55"/><circle cx="481.19" cy="361.86" r="2.55"/><circle cx="481.19" cy="357.62" r="2.55"/><circle cx="481.19" cy="355.99" r="2.55"/><circle cx="481.19" cy="354.71" r="2.55"/><circle cx="481.19" cy="350.29" r="2.55"/><circle cx="481.19" cy="349.01" r="2.55"/><circle cx="481.19" cy="347.80" r="2.55"/><circle cx="481.19" cy="346.51" r="2.55"/><circle cx="481.19" cy="345.32" r="2.55"/><circle cx="481.19" cy="344.13" r="2.55"/><circle cx="481.19" cy="342.61" r="2.55"/><circle cx="481.19" cy="340.87" r="2.55"/><circle cx="441.12" cy="397.40" r="2.55"/><circle cx="441.12" cy="396.22" r="2.55"/><circle cx="441.12" cy="394.89" r="2.55"/><circle cx="441.12" cy="394.17" r="2.55"/><circle cx="441.12" cy="393.10" r="2.55"/><circle cx="441.12" cy="392.37" r="2.55"/><circle cx="441.12" cy="391.60" r="2.55"/><circle cx="441.12" cy="390.98" r="2.55"/><circle cx="441.12" cy="390.14" r="2.55"/><circle cx="441.12" cy="389.29" r="2.55"/><circle cx="441.12" cy="388.13" r="2.55"/><circle cx="441.12" cy="386.92" r="2.55"/><circle cx="441.12" cy="385.45" r="2.55"/><circle cx="441.12" cy="384.33" r="2.55"/><circle cx="441.12" cy="382.79" r="2.55"/><circle cx="441.12" cy="381.76" r="2.55"/><circle cx="441.12" cy="380.37" r="2.55"/><circle cx="441.12" cy="379.18" r="2.55"/><circle cx="441.12" cy="377.91" r="2.55"/><circle cx="441.12" cy="377.01" r="2.55"/><circle cx="441.12" cy="375.42" r="2.55"/><circle cx="441.12" cy="374.01" r="2.55"/><circle cx="441.12" cy="373.23" r="2.55"/><circle cx="441.12" cy="372.06" r="2.55"/><circle cx="441.12" cy="369.89" r="2.55"/><circle cx="441.12" cy="366.70" r="2.55"/><circle cx="441.12" cy="362.74" r="2.55"/><circle cx="441.12" cy="362.07" r="2.55"/><circle cx="441.12" cy="361.13" r="2.55"/><circle cx="441.12" cy="359.75" r="2.55"/><circle cx="441.12" cy="359.08" r="2.55"/><circle cx="441.12" cy="357.69" r="2.55"/><circle cx="441.12" cy="356.48" r="2.55"/><circle cx="441.12" cy="355.41" r="2.55"/></g> <g> <path d="M 433.11 402.4 L 433.11 307.3 " style="fill: none; stroke: #262626; stroke-width: 1.15; stroke-linejoin: miter; stroke-linecap: square"/> </g> <g> <path d="M 433.11 402.4 L 609.47 402.4 " style="fill: none; stroke: #262626; stroke-width: 1.25; stroke-linejoin: miter; stroke-linecap: square"/> </g> <g> <path d="M 441.11 374.78 L 441.11 381.52 L 443.83 380.69 L 446.55 379.86 L 449.26 379.03 L 451.98 378.20 L 454.70 377.37 L 457.41 376.55 L 460.13 375.72 L 462.85 374.90 L 465.56 374.08 L 468.28 373.26 L 471.00 372.44 L 473.71 371.62 L 476.43 370.81 L 479.15 370.00 L 481.87 369.19 L 484.58 368.38 L 487.30 367.57 L 490.02 366.77 L 492.73 365.97 L 495.45 365.18 L 498.17 364.39 L 500.88 363.60 L 503.60 362.82 L 506.32 362.04 L 509.03 361.27 L 511.75 360.50 L 514.47 359.74 L 517.18 358.98 L 519.90 358.23 L 522.62 357.49 L 525.33 356.75 L 528.05 356.01 L 530.77 355.29 L 533.49 354.56 L 536.20 353.85 L 538.92 353.13 L 541.64 352.43 L 544.35 351.72 L 547.07 351.03 L 549.79 350.33 L 552.50 349.64 L 555.22 348.95 L 557.94 348.27 L 560.65 347.59 L 563.37 346.91 L 566.09 346.23 L 568.80 345.55 L 571.52 344.88 L 574.24 344.21 L 576.96 343.54 L 579.67 342.87 L 582.39 342.21 L 585.11 341.54 L 587.82 340.88 L 590.54 340.21 L 593.26 339.55 L 595.97 338.89 L 598.69 338.23 L 601.41 337.57 L 601.41 330.83 L 601.41 330.83 L 598.69 331.66 L 595.97 332.49 L 593.26 333.32 L 590.54 334.15 L 587.82 334.97 L 585.11 335.80 L 582.39 336.62 L 579.67 337.45 L 576.96 338.27 L 574.24 339.09 L 571.52 339.91 L 568.80 340.72 L 566.09 341.54 L 563.37 342.35 L 560.65 343.16 L 557.94 343.97 L 555.22 344.77 L 552.50 345.57 L 549.79 346.37 L 547.07 347.17 L 544.35 347.96 L 541.64 348.75 L 538.92 349.53 L 536.20 350.31 L 533.49 351.08 L 530.77 351.85 L 528.05 352.61 L 525.33 353.36 L 522.62 354.12 L 519.90 354.86 L 517.18 355.60 L 514.47 356.33 L 511.75 357.06 L 509.03 357.78 L 506.32 358.50 L 503.60 359.21 L 500.88 359.92 L 498.17 360.62 L 495.45 361.32 L 492.73 362.01 L 490.02 362.71 L 487.30 363.39 L 484.58 364.08 L 481.87 364.76 L 479.15 365.44 L 476.43 366.12 L 473.71 366.79 L 471.00 367.47 L 468.28 368.14 L 465.56 368.81 L 462.85 369.47 L 460.13 370.14 L 457.41 370.81 L 454.70 371.47 L 451.98 372.13 L 449.26 372.80 L 446.55 373.46 L 443.83 374.12 L 441.11 374.78 z " clip-path="url(#p88c1cc78f3)" style="fill: #d0000c; fill-opacity: 0.15"/> </g> <g> <path d="M 441.11 378.15 L 601.41 334.20 " clip-path="url(#p88c1cc78f3)" style="fill: none; stroke-dasharray: 6.66,2.88; stroke-dashoffset: 0; stroke: #d0000c; stroke-width: 1.8"/> </g> </g> <g> <g> <path d="M 628.11 402.4 L 804.23 402.4 L 804.23 307.3 L 628.11 307.3 L 628.11 402.4 z " style="fill: none; opacity: 0"/> </g> <g> <g> <g> <g> <path d="M 0 0 L 0 4.2 " transform="translate(634.44 402.4)" style="fill: #262626; stroke: #262626; stroke-width: 1.1; stroke: #262626; stroke-width: 1.1"/> </g> </g> <g> <text style="font-size: 8.70px; font-family: 'DejaVu Serif', serif; text-anchor: middle; fill: #262626" x="634.44" y="417.35" transform="translate(634.44 417.35) scale(0.925 1) translate(-634.44 -417.35)">500</text> </g> </g> <g> <g> <g> <path d="M 0 0 L 0 4.2 " transform="translate(679.22 402.4)" style="fill: #262626; stroke: #262626; stroke-width: 1.1; stroke: #262626; stroke-width: 1.1"/> </g> </g> <g> <text style="font-size: 8.70px; font-family: 'DejaVu Serif', serif; text-anchor: middle; fill: #262626" x="679.22" y="417.35" transform="translate(679.22 417.35) scale(0.925 1) translate(-679.22 -417.35)">1000</text> </g> </g> <g> <g> <g> <path d="M 0 0 L 0 4.2 " transform="translate(724 402.4)" style="fill: #262626; stroke: #262626; stroke-width: 1.1; stroke: #262626; stroke-width: 1.1"/> </g> </g> <g> <text style="font-size: 8.70px; font-family: 'DejaVu Serif', serif; text-anchor: middle; fill: #262626" x="724.00" y="417.35" transform="translate(724.00 417.35) scale(0.925 1) translate(-724.00 -417.35)">1500</text> </g> </g> <g> <g> <g> <path d="M 0 0 L 0 4.2 " transform="translate(768.77 402.4)" style="fill: #262626; stroke: #262626; stroke-width: 1.1; stroke: #262626; stroke-width: 1.1"/> </g> </g> <g> <text style="font-size: 8.70px; font-family: 'DejaVu Serif', serif; text-anchor: middle; fill: #262626" x="768.77" y="417.35" transform="translate(768.77 417.35) scale(0.925 1) translate(-768.77 -417.35)">2000</text> </g> </g> <g> <text style="font-size: 8.9px; font-family: 'DejaVu Serif', serif; text-anchor: middle; fill: #262626" x="716.17" y="428.78" transform="rotate(-0 716.17 428.78)">UCS</text> </g> </g> <g> <g> <g> <g> <path d="M 0 0 L -4.2 0 " transform="translate(628.11 398.8)" style="fill: #262626; stroke: #262626; stroke-width: 1.1; stroke: #262626; stroke-width: 1.1"/> </g> </g> </g> <g> <g> <g> <path d="M 0 0 L -4.2 0 " transform="translate(628.11 374.73)" style="fill: #262626; stroke: #262626; stroke-width: 1.1; stroke: #262626; stroke-width: 1.1"/> </g> </g> </g> <g> <g> <g> <path d="M 0 0 L -4.2 0 " transform="translate(628.11 350.66)" style="fill: #262626; stroke: #262626; stroke-width: 1.1; stroke: #262626; stroke-width: 1.1"/> </g> </g> </g> <g> <g> <g> <path d="M 0 0 L -4.2 0 " transform="translate(628.11 326.6)" style="fill: #262626; stroke: #262626; stroke-width: 1.1; stroke: #262626; stroke-width: 1.1"/> </g> </g> </g> </g> <g> <path d="M 628.11 402.4 L 628.11 307.3 " style="fill: none; stroke: #262626; stroke-width: 1.15; stroke-linejoin: miter; stroke-linecap: square"/> </g> <g> <path d="M 628.11 402.4 L 804.23 402.4 " style="fill: none; stroke: #262626; stroke-width: 1.25; stroke-linejoin: miter; stroke-linecap: square"/> </g> </g> <g> <g> <path d="M 49.94 95.25 L 67.73 95.25 L 67.73 4.95 L 49.94 4.95 z " clip-path="url(#pe449261918)" style="fill: #4c72b0; opacity: 0.75"/> </g> <g> <path d="M 67.73 95.25 L 85.52 95.25 L 85.52 95.25 L 67.73 95.25 z " clip-path="url(#pe449261918)" style="fill: #4c72b0; opacity: 0.75"/> </g> <g> <path d="M 85.52 95.25 L 103.31 95.25 L 103.31 4.95 L 85.52 4.95 z " clip-path="url(#pe449261918)" style="fill: #4c72b0; opacity: 0.75"/> </g> <g> <path d="M 103.31 95.25 L 121.10 95.25 L 121.10 95.25 L 103.31 95.25 z " clip-path="url(#pe449261918)" style="fill: #4c72b0; opacity: 0.75"/> </g> <g> <path d="M 121.10 95.25 L 138.89 95.25 L 138.89 4.95 L 121.10 4.95 z " clip-path="url(#pe449261918)" style="fill: #4c72b0; opacity: 0.75"/> </g> <g> <path d="M 138.89 95.25 L 156.68 95.25 L 156.68 95.25 L 138.89 95.25 z " clip-path="url(#pe449261918)" style="fill: #4c72b0; opacity: 0.75"/> </g> <g> <path d="M 156.68 95.25 L 174.47 95.25 L 174.47 4.95 L 156.68 4.95 z " clip-path="url(#pe449261918)" style="fill: #4c72b0; opacity: 0.75"/> </g> <g> <path d="M 174.47 95.25 L 192.26 95.25 L 192.26 95.25 L 174.47 95.25 z " clip-path="url(#pe449261918)" style="fill: #4c72b0; opacity: 0.75"/> </g> <g> <path d="M 192.26 95.25 L 210.05 95.25 L 210.05 4.95 L 192.26 4.95 z " clip-path="url(#pe449261918)" style="fill: #4c72b0; opacity: 0.75"/> </g> <g> <path d="M 49.94 95.25 L 49.94 4.95 L 67.73 4.95 L 67.73 95.25 " clip-path="url(#pe449261918)" style="fill: none; stroke: #ffffff; stroke-width: 1.1; stroke-linejoin: miter"/> </g> <g> <path d="M 85.52 95.25 L 85.52 4.95 L 103.31 4.95 L 103.31 95.25 " clip-path="url(#pe449261918)" style="fill: none; stroke: #ffffff; stroke-width: 1.1; stroke-linejoin: miter"/> </g> <g> <path d="M 121.10 95.25 L 121.10 4.95 L 138.89 4.95 L 138.89 95.25 " clip-path="url(#pe449261918)" style="fill: none; stroke: #ffffff; stroke-width: 1.1; stroke-linejoin: miter"/> </g> <g> <path d="M 156.68 95.25 L 156.68 4.95 L 174.47 4.95 L 174.47 95.25 " clip-path="url(#pe449261918)" style="fill: none; stroke: #ffffff; stroke-width: 1.1; stroke-linejoin: miter"/> </g> <g> <path d="M 192.26 95.25 L 192.26 4.95 L 210.05 4.95 L 210.05 95.25 " clip-path="url(#pe449261918)" style="fill: none; stroke: #ffffff; stroke-width: 1.1; stroke-linejoin: miter"/> </g> <g> <path d="M 50.94 95.25 L 50.94 5.95 L 66.73 5.95 L 66.73 95.25 " clip-path="url(#pe449261918)" style="fill: none; stroke: #2a4a8a; stroke-opacity: 0.27; stroke-width: 0.9; stroke-linejoin: miter"/> </g> <g> <path d="M 86.52 95.25 L 86.52 5.95 L 102.31 5.95 L 102.31 95.25 " clip-path="url(#pe449261918)" style="fill: none; stroke: #2a4a8a; stroke-opacity: 0.27; stroke-width: 0.9; stroke-linejoin: miter"/> </g> <g> <path d="M 122.10 95.25 L 122.10 5.95 L 137.89 5.95 L 137.89 95.25 " clip-path="url(#pe449261918)" style="fill: none; stroke: #2a4a8a; stroke-opacity: 0.27; stroke-width: 0.9; stroke-linejoin: miter"/> </g> <g> <path d="M 157.68 95.25 L 157.68 5.95 L 173.47 5.95 L 173.47 95.25 " clip-path="url(#pe449261918)" style="fill: none; stroke: #2a4a8a; stroke-opacity: 0.27; stroke-width: 0.9; stroke-linejoin: miter"/> </g> <g> <path d="M 193.26 95.25 L 193.26 5.95 L 209.05 5.95 L 209.05 95.25 " clip-path="url(#pe449261918)" style="fill: none; stroke: #2a4a8a; stroke-opacity: 0.27; stroke-width: 0.9; stroke-linejoin: miter"/> </g> </g> <g> <g> <path d="M 245.37 197.45 L 263.19 197.45 L 263.19 107.15 L 245.37 107.15 z " clip-path="url(#p5a34a10307)" style="fill: #4c72b0; opacity: 0.75"/> </g> <g> <path d="M 263.19 197.45 L 281.01 197.45 L 281.01 197.45 L 263.19 197.45 z " clip-path="url(#p5a34a10307)" style="fill: #4c72b0; opacity: 0.75"/> </g> <g> <path d="M 281.01 197.45 L 298.83 197.45 L 298.83 107.15 L 281.01 107.15 z " clip-path="url(#p5a34a10307)" style="fill: #4c72b0; opacity: 0.75"/> </g> <g> <path d="M 298.83 197.45 L 316.66 197.45 L 316.66 197.45 L 298.83 197.45 z " clip-path="url(#p5a34a10307)" style="fill: #4c72b0; opacity: 0.75"/> </g> <g> <path d="M 316.66 197.45 L 334.48 197.45 L 334.48 107.15 L 316.66 107.15 z " clip-path="url(#p5a34a10307)" style="fill: #4c72b0; opacity: 0.75"/> </g> <g> <path d="M 334.48 197.45 L 352.30 197.45 L 352.30 197.45 L 334.48 197.45 z " clip-path="url(#p5a34a10307)" style="fill: #4c72b0; opacity: 0.75"/> </g> <g> <path d="M 352.30 197.45 L 370.12 197.45 L 370.12 107.15 L 352.30 107.15 z " clip-path="url(#p5a34a10307)" style="fill: #4c72b0; opacity: 0.75"/> </g> <g> <path d="M 370.12 197.45 L 387.94 197.45 L 387.94 197.45 L 370.12 197.45 z " clip-path="url(#p5a34a10307)" style="fill: #4c72b0; opacity: 0.75"/> </g> <g> <path d="M 387.94 197.45 L 405.76 197.45 L 405.76 107.15 L 387.94 107.15 z " clip-path="url(#p5a34a10307)" style="fill: #4c72b0; opacity: 0.75"/> </g> <g> <path d="M 245.37 197.45 L 245.37 107.15 L 263.19 107.15 L 263.19 197.45 " clip-path="url(#p5a34a10307)" style="fill: none; stroke: #ffffff; stroke-width: 1.1; stroke-linejoin: miter"/> </g> <g> <path d="M 281.01 197.45 L 281.01 107.15 L 298.83 107.15 L 298.83 197.45 " clip-path="url(#p5a34a10307)" style="fill: none; stroke: #ffffff; stroke-width: 1.1; stroke-linejoin: miter"/> </g> <g> <path d="M 316.66 197.45 L 316.66 107.15 L 334.48 107.15 L 334.48 197.45 " clip-path="url(#p5a34a10307)" style="fill: none; stroke: #ffffff; stroke-width: 1.1; stroke-linejoin: miter"/> </g> <g> <path d="M 352.30 197.45 L 352.30 107.15 L 370.12 107.15 L 370.12 197.45 " clip-path="url(#p5a34a10307)" style="fill: none; stroke: #ffffff; stroke-width: 1.1; stroke-linejoin: miter"/> </g> <g> <path d="M 387.94 197.45 L 387.94 107.15 L 405.76 107.15 L 405.76 197.45 " clip-path="url(#p5a34a10307)" style="fill: none; stroke: #ffffff; stroke-width: 1.1; stroke-linejoin: miter"/> </g> <g> <path d="M 246.37 197.45 L 246.37 108.15 L 262.19 108.15 L 262.19 197.45 " clip-path="url(#p5a34a10307)" style="fill: none; stroke: #2a4a8a; stroke-opacity: 0.27; stroke-width: 0.9; stroke-linejoin: miter"/> </g> <g> <path d="M 282.01 197.45 L 282.01 108.15 L 297.83 108.15 L 297.83 197.45 " clip-path="url(#p5a34a10307)" style="fill: none; stroke: #2a4a8a; stroke-opacity: 0.27; stroke-width: 0.9; stroke-linejoin: miter"/> </g> <g> <path d="M 317.66 197.45 L 317.66 108.15 L 333.48 108.15 L 333.48 197.45 " clip-path="url(#p5a34a10307)" style="fill: none; stroke: #2a4a8a; stroke-opacity: 0.27; stroke-width: 0.9; stroke-linejoin: miter"/> </g> <g> <path d="M 353.30 197.45 L 353.30 108.15 L 369.12 108.15 L 369.12 197.45 " clip-path="url(#p5a34a10307)" style="fill: none; stroke: #2a4a8a; stroke-opacity: 0.27; stroke-width: 0.9; stroke-linejoin: miter"/> </g> <g> <path d="M 388.94 197.45 L 388.94 108.15 L 404.76 108.15 L 404.76 197.45 " clip-path="url(#p5a34a10307)" style="fill: none; stroke: #2a4a8a; stroke-opacity: 0.27; stroke-width: 0.9; stroke-linejoin: miter"/> </g> </g> <g> <g> <path d="M 441.11 299.85 L 458.92 299.85 L 458.92 209.55 L 441.11 209.55 z " clip-path="url(#p1eb320e7fe)" style="fill: #4c72b0; opacity: 0.75"/> </g> <g> <path d="M 458.92 299.85 L 476.73 299.85 L 476.73 299.85 L 458.92 299.85 z " clip-path="url(#p1eb320e7fe)" style="fill: #4c72b0; opacity: 0.75"/> </g> <g> <path d="M 476.73 299.85 L 494.54 299.85 L 494.54 209.55 L 476.73 209.55 z " clip-path="url(#p1eb320e7fe)" style="fill: #4c72b0; opacity: 0.75"/> </g> <g> <path d="M 494.54 299.85 L 512.35 299.85 L 512.35 299.85 L 494.54 299.85 z " clip-path="url(#p1eb320e7fe)" style="fill: #4c72b0; opacity: 0.75"/> </g> <g> <path d="M 512.35 299.85 L 530.16 299.85 L 530.16 209.55 L 512.35 209.55 z " clip-path="url(#p1eb320e7fe)" style="fill: #4c72b0; opacity: 0.75"/> </g> <g> <path d="M 530.16 299.85 L 547.98 299.85 L 547.98 299.85 L 530.16 299.85 z " clip-path="url(#p1eb320e7fe)" style="fill: #4c72b0; opacity: 0.75"/> </g> <g> <path d="M 547.98 299.85 L 565.79 299.85 L 565.79 209.55 L 547.98 209.55 z " clip-path="url(#p1eb320e7fe)" style="fill: #4c72b0; opacity: 0.75"/> </g> <g> <path d="M 565.79 299.85 L 583.60 299.85 L 583.60 299.85 L 565.79 299.85 z " clip-path="url(#p1eb320e7fe)" style="fill: #4c72b0; opacity: 0.75"/> </g> <g> <path d="M 583.60 299.85 L 601.41 299.85 L 601.41 209.55 L 583.60 209.55 z " clip-path="url(#p1eb320e7fe)" style="fill: #4c72b0; opacity: 0.75"/> </g> <g> <path d="M 441.11 299.85 L 441.11 209.55 L 458.92 209.55 L 458.92 299.85 " clip-path="url(#p1eb320e7fe)" style="fill: none; stroke: #ffffff; stroke-width: 1.1; stroke-linejoin: miter"/> </g> <g> <path d="M 476.73 299.85 L 476.73 209.55 L 494.54 209.55 L 494.54 299.85 " clip-path="url(#p1eb320e7fe)" style="fill: none; stroke: #ffffff; stroke-width: 1.1; stroke-linejoin: miter"/> </g> <g> <path d="M 512.35 299.85 L 512.35 209.55 L 530.16 209.55 L 530.16 299.85 " clip-path="url(#p1eb320e7fe)" style="fill: none; stroke: #ffffff; stroke-width: 1.1; stroke-linejoin: miter"/> </g> <g> <path d="M 547.98 299.85 L 547.98 209.55 L 565.79 209.55 L 565.79 299.85 " clip-path="url(#p1eb320e7fe)" style="fill: none; stroke: #ffffff; stroke-width: 1.1; stroke-linejoin: miter"/> </g> <g> <path d="M 583.60 299.85 L 583.60 209.55 L 601.41 209.55 L 601.41 299.85 " clip-path="url(#p1eb320e7fe)" style="fill: none; stroke: #ffffff; stroke-width: 1.1; stroke-linejoin: miter"/> </g> <g> <path d="M 442.11 299.85 L 442.11 210.55 L 457.92 210.55 L 457.92 299.85 " clip-path="url(#p1eb320e7fe)" style="fill: none; stroke: #2a4a8a; stroke-opacity: 0.27; stroke-width: 0.9; stroke-linejoin: miter"/> </g> <g> <path d="M 477.73 299.85 L 477.73 210.55 L 493.54 210.55 L 493.54 299.85 " clip-path="url(#p1eb320e7fe)" style="fill: none; stroke: #2a4a8a; stroke-opacity: 0.27; stroke-width: 0.9; stroke-linejoin: miter"/> </g> <g> <path d="M 513.35 299.85 L 513.35 210.55 L 529.16 210.55 L 529.16 299.85 " clip-path="url(#p1eb320e7fe)" style="fill: none; stroke: #2a4a8a; stroke-opacity: 0.27; stroke-width: 0.9; stroke-linejoin: miter"/> </g> <g> <path d="M 548.98 299.85 L 548.98 210.55 L 564.79 210.55 L 564.79 299.85 " clip-path="url(#p1eb320e7fe)" style="fill: none; stroke: #2a4a8a; stroke-opacity: 0.27; stroke-width: 0.9; stroke-linejoin: miter"/> </g> <g> <path d="M 584.60 299.85 L 584.60 210.55 L 600.41 210.55 L 600.41 299.85 " clip-path="url(#p1eb320e7fe)" style="fill: none; stroke: #2a4a8a; stroke-opacity: 0.27; stroke-width: 0.9; stroke-linejoin: miter"/> </g> </g> <g> <g> <path d="M 636.47 402.4 L 654.28 402.4 L 654.28 380.32 L 636.47 380.32 z " clip-path="url(#p9000cd3289)" style="fill: #4c72b0; opacity: 0.75"/> </g> <g> <path d="M 654.28 402.4 L 672.08 402.4 L 672.08 350.22 L 654.28 350.22 z " clip-path="url(#p9000cd3289)" style="fill: #4c72b0; opacity: 0.75"/> </g> <g> <path d="M 672.08 402.4 L 689.88 402.4 L 689.88 348.22 L 672.08 348.22 z " clip-path="url(#p9000cd3289)" style="fill: #4c72b0; opacity: 0.75"/> </g> <g> <path d="M 689.88 402.4 L 707.68 402.4 L 707.68 338.18 L 689.88 338.18 z " clip-path="url(#p9000cd3289)" style="fill: #4c72b0; opacity: 0.75"/> </g> <g> <path d="M 707.68 402.4 L 725.48 402.4 L 725.48 320.12 L 707.68 320.12 z " clip-path="url(#p9000cd3289)" style="fill: #4c72b0; opacity: 0.75"/> </g> <g> <path d="M 725.48 402.4 L 743.28 402.4 L 743.28 334.17 L 725.48 334.17 z " clip-path="url(#p9000cd3289)" style="fill: #4c72b0; opacity: 0.75"/> </g> <g> <path d="M 743.28 402.4 L 761.08 402.4 L 761.08 346.21 L 743.28 346.21 z " clip-path="url(#p9000cd3289)" style="fill: #4c72b0; opacity: 0.75"/> </g> <g> <path d="M 761.08 402.4 L 778.88 402.4 L 778.88 374.30 L 761.08 374.30 z " clip-path="url(#p9000cd3289)" style="fill: #4c72b0; opacity: 0.75"/> </g> <g> <path d="M 778.88 402.4 L 796.68 402.4 L 796.68 378.32 L 778.88 378.32 z " clip-path="url(#p9000cd3289)" style="fill: #4c72b0; opacity: 0.75"/> </g> <g> <path d="M 636.47 402.4 L 636.47 380.32 L 654.28 380.32 L 654.28 402.4 " clip-path="url(#p9000cd3289)" style="fill: none; stroke: #ffffff; stroke-width: 1.1; stroke-linejoin: miter"/> </g> <g> <path d="M 654.28 402.4 L 654.28 350.22 L 672.08 350.22 L 672.08 402.4 " clip-path="url(#p9000cd3289)" style="fill: none; stroke: #ffffff; stroke-width: 1.1; stroke-linejoin: miter"/> </g> <g> <path d="M 672.08 402.4 L 672.08 348.22 L 689.88 348.22 L 689.88 402.4 " clip-path="url(#p9000cd3289)" style="fill: none; stroke: #ffffff; stroke-width: 1.1; stroke-linejoin: miter"/> </g> <g> <path d="M 689.88 402.4 L 689.88 338.18 L 707.68 338.18 L 707.68 402.4 " clip-path="url(#p9000cd3289)" style="fill: none; stroke: #ffffff; stroke-width: 1.1; stroke-linejoin: miter"/> </g> <g> <path d="M 707.68 402.4 L 707.68 320.12 L 725.48 320.12 L 725.48 402.4 " clip-path="url(#p9000cd3289)" style="fill: none; stroke: #ffffff; stroke-width: 1.1; stroke-linejoin: miter"/> </g> <g> <path d="M 725.48 402.4 L 725.48 334.17 L 743.28 334.17 L 743.28 402.4 " clip-path="url(#p9000cd3289)" style="fill: none; stroke: #ffffff; stroke-width: 1.1; stroke-linejoin: miter"/> </g> <g> <path d="M 743.28 402.4 L 743.28 346.21 L 761.08 346.21 L 761.08 402.4 " clip-path="url(#p9000cd3289)" style="fill: none; stroke: #ffffff; stroke-width: 1.1; stroke-linejoin: miter"/> </g> <g> <path d="M 761.08 402.4 L 761.08 374.30 L 778.88 374.30 L 778.88 402.4 " clip-path="url(#p9000cd3289)" style="fill: none; stroke: #ffffff; stroke-width: 1.1; stroke-linejoin: miter"/> </g> <g> <path d="M 778.88 402.4 L 778.88 378.32 L 796.68 378.32 L 796.68 402.4 " clip-path="url(#p9000cd3289)" style="fill: none; stroke: #ffffff; stroke-width: 1.1; stroke-linejoin: miter"/> </g> <g> <path d="M 637.47 402.4 L 637.47 381.32 L 653.28 381.32 L 653.28 402.4 " clip-path="url(#p9000cd3289)" style="fill: none; stroke: #2a4a8a; stroke-opacity: 0.27; stroke-width: 0.9; stroke-linejoin: miter"/> </g> <g> <path d="M 655.28 402.4 L 655.28 351.22 L 671.08 351.22 L 671.08 402.4 " clip-path="url(#p9000cd3289)" style="fill: none; stroke: #2a4a8a; stroke-opacity: 0.27; stroke-width: 0.9; stroke-linejoin: miter"/> </g> <g> <path d="M 673.08 402.4 L 673.08 349.22 L 688.88 349.22 L 688.88 402.4 " clip-path="url(#p9000cd3289)" style="fill: none; stroke: #2a4a8a; stroke-opacity: 0.27; stroke-width: 0.9; stroke-linejoin: miter"/> </g> <g> <path d="M 690.88 402.4 L 690.88 339.18 L 706.68 339.18 L 706.68 402.4 " clip-path="url(#p9000cd3289)" style="fill: none; stroke: #2a4a8a; stroke-opacity: 0.27; stroke-width: 0.9; stroke-linejoin: miter"/> </g> <g> <path d="M 708.68 402.4 L 708.68 321.12 L 724.48 321.12 L 724.48 402.4 " clip-path="url(#p9000cd3289)" style="fill: none; stroke: #2a4a8a; stroke-opacity: 0.27; stroke-width: 0.9; stroke-linejoin: miter"/> </g> <g> <path d="M 726.48 402.4 L 726.48 335.17 L 742.28 335.17 L 742.28 402.4 " clip-path="url(#p9000cd3289)" style="fill: none; stroke: #2a4a8a; stroke-opacity: 0.27; stroke-width: 0.9; stroke-linejoin: miter"/> </g> <g> <path d="M 744.28 402.4 L 744.28 347.21 L 760.08 347.21 L 760.08 402.4 " clip-path="url(#p9000cd3289)" style="fill: none; stroke: #2a4a8a; stroke-opacity: 0.27; stroke-width: 0.9; stroke-linejoin: miter"/> </g> <g> <path d="M 762.08 402.4 L 762.08 375.30 L 777.88 375.30 L 777.88 402.4 " clip-path="url(#p9000cd3289)" style="fill: none; stroke: #2a4a8a; stroke-opacity: 0.27; stroke-width: 0.9; stroke-linejoin: miter"/> </g> <g> <path d="M 779.88 402.4 L 779.88 379.32 L 795.68 379.32 L 795.68 402.4 " clip-path="url(#p9000cd3289)" style="fill: none; stroke: #2a4a8a; stroke-opacity: 0.27; stroke-width: 0.9; stroke-linejoin: miter"/> </g> </g> </g> <defs> <clipPath id="p2cf65cdfdc"> <rect x="237.35" y="0.35" width="176.47" height="94.9"/> </clipPath> <clipPath id="p220b580587"> <rect x="433.11" y="0.35" width="176.35" height="94.9"/> </clipPath> <clipPath id="p8762968a3f"> <rect x="628.11" y="0.35" width="176.11" height="94.9"/> </clipPath> <clipPath id="p64d9a07a11"> <rect x="41.94" y="102.6" width="176.11" height="94.85"/> </clipPath> <clipPath id="p9f455ea907"> <rect x="433.11" y="102.6" width="176.35" height="94.85"/> </clipPath> <clipPath id="pc034254808"> <rect x="628.11" y="102.6" width="176.11" height="94.85"/> </clipPath> <clipPath id="p61c2cfd841"> <rect x="41.94" y="205" width="176.11" height="94.85"/> </clipPath> <clipPath id="p273818b134"> <rect x="237.35" y="205" width="176.47" height="94.85"/> </clipPath> <clipPath id="p671a08f474"> <rect x="628.11" y="205" width="176.11" height="94.85"/> </clipPath> <clipPath id="p62892ebee8"> <rect x="41.94" y="307.3" width="176.11" height="95.1"/> </clipPath> <clipPath id="p938a10688b"> <rect x="237.35" y="307.3" width="176.47" height="95.1"/> </clipPath> <clipPath id="p88c1cc78f3"> <rect x="433.11" y="307.3" width="176.35" height="95.1"/> </clipPath> <clipPath id="pe449261918"> <rect x="41.94" y="0.35" width="176.11" height="94.9"/> </clipPath> <clipPath id="p5a34a10307"> <rect x="237.35" y="102.6" width="176.47" height="94.85"/> </clipPath> <clipPath id="p1eb320e7fe"> <rect x="433.11" y="205" width="176.35" height="94.85"/> </clipPath> <clipPath id="p9000cd3289"> <rect x="628.11" y="307.3" width="176.11" height="95.1"/> </clipPath> </defs> <g transform="scale(1.17647 1)" style="fill:#262626;font-family:'DejaVu Serif',serif"><text transform="translate(11.80 49.15) rotate(-90) scale(1 0.920)" text-anchor="middle" style="font-size:9.40px">CGA</text><text transform="translate(16.30 152.00) rotate(-90) scale(1 0.920)" text-anchor="middle" style="font-size:9.40px">SF</text><text transform="translate(14.20 253.60) rotate(-90) scale(1 0.920)" text-anchor="middle" style="font-size:9.40px">BF</text><text transform="translate(6.80 357.40) rotate(-90) scale(1 0.920)" text-anchor="middle" style="font-size:9.40px">UCS</text></g></svg> 
</body></html>
